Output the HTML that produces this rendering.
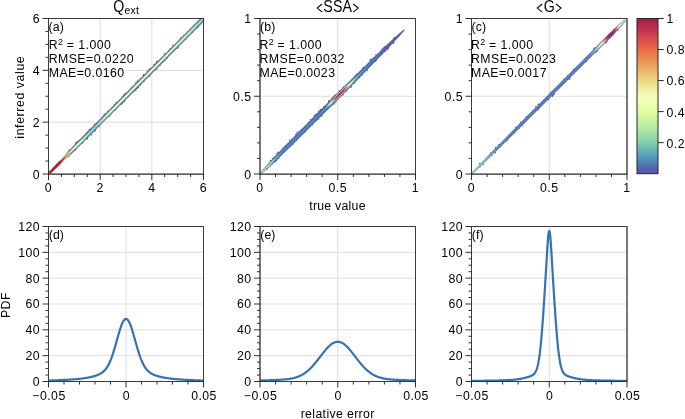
<!DOCTYPE html>
<html><head><meta charset="utf-8"><style>
html,body{margin:0;padding:0;background:#fff;}
svg{display:block;will-change:transform;}
</style></head><body>
<svg width="685" height="419" viewBox="0 0 685 419" font-family='"Liberation Sans", sans-serif'>
<rect width="685" height="419" fill="#fff"/>
<line x1="100.17" y1="18.50" x2="100.17" y2="174.00" stroke="#dddddd" stroke-width="1"/>
<line x1="48.50" y1="122.17" x2="203.50" y2="122.17" stroke="#dddddd" stroke-width="1"/>
<line x1="151.83" y1="18.50" x2="151.83" y2="174.00" stroke="#dddddd" stroke-width="1"/>
<line x1="48.50" y1="70.33" x2="203.50" y2="70.33" stroke="#dddddd" stroke-width="1"/>
<clipPath id="clip0"><rect x="48.5" y="18.5" width="155.0" height="155.5"/></clipPath>
<linearGradient id="g1" gradientUnits="userSpaceOnUse" x1="48.50" y1="174.00" x2="203.50" y2="18.50"><stop offset="0.0000" stop-color="#dc534d"/><stop offset="0.0125" stop-color="#d94e4e"/><stop offset="0.0250" stop-color="#d7494f"/><stop offset="0.0375" stop-color="#d44550"/><stop offset="0.0500" stop-color="#d14051"/><stop offset="0.0625" stop-color="#d64850"/><stop offset="0.0750" stop-color="#ea8652"/><stop offset="0.0875" stop-color="#eee395"/><stop offset="0.1000" stop-color="#cef2a1"/><stop offset="0.1125" stop-color="#7dceab"/><stop offset="0.1250" stop-color="#5384b7"/><stop offset="0.1375" stop-color="#5560a8"/><stop offset="0.1500" stop-color="#575da7"/><stop offset="0.1625" stop-color="#575da7"/><stop offset="0.1750" stop-color="#575da7"/><stop offset="0.1875" stop-color="#575da7"/><stop offset="0.2000" stop-color="#575da7"/><stop offset="0.2125" stop-color="#575da7"/><stop offset="0.2250" stop-color="#575da7"/><stop offset="0.2375" stop-color="#575da7"/><stop offset="0.2500" stop-color="#575da7"/><stop offset="0.2625" stop-color="#575da7"/><stop offset="0.2750" stop-color="#575da7"/><stop offset="0.2875" stop-color="#575da7"/><stop offset="0.3000" stop-color="#575da7"/><stop offset="0.3125" stop-color="#575da7"/><stop offset="0.3250" stop-color="#575da7"/><stop offset="0.3375" stop-color="#575da7"/><stop offset="0.3500" stop-color="#575da7"/><stop offset="0.3625" stop-color="#575da7"/><stop offset="0.3750" stop-color="#575da7"/><stop offset="0.3875" stop-color="#575da7"/><stop offset="0.4000" stop-color="#575da7"/><stop offset="0.4125" stop-color="#575da7"/><stop offset="0.4250" stop-color="#575da7"/><stop offset="0.4375" stop-color="#575da7"/><stop offset="0.4500" stop-color="#575da7"/><stop offset="0.4625" stop-color="#575da7"/><stop offset="0.4750" stop-color="#575da7"/><stop offset="0.4875" stop-color="#575da7"/><stop offset="0.5000" stop-color="#575da7"/><stop offset="0.5125" stop-color="#575da7"/><stop offset="0.5250" stop-color="#575da7"/><stop offset="0.5375" stop-color="#575da7"/><stop offset="0.5500" stop-color="#575da7"/><stop offset="0.5625" stop-color="#575da7"/><stop offset="0.5750" stop-color="#575da7"/><stop offset="0.5875" stop-color="#575da7"/><stop offset="0.6000" stop-color="#575da7"/><stop offset="0.6125" stop-color="#575da7"/><stop offset="0.6250" stop-color="#575da7"/><stop offset="0.6375" stop-color="#575da7"/><stop offset="0.6500" stop-color="#575da7"/><stop offset="0.6625" stop-color="#575da7"/><stop offset="0.6750" stop-color="#575da7"/><stop offset="0.6875" stop-color="#575da7"/><stop offset="0.7000" stop-color="#575da7"/><stop offset="0.7125" stop-color="#575da7"/><stop offset="0.7250" stop-color="#575da7"/><stop offset="0.7375" stop-color="#575da7"/><stop offset="0.7500" stop-color="#575da7"/><stop offset="0.7625" stop-color="#575da7"/><stop offset="0.7750" stop-color="#575da7"/><stop offset="0.7875" stop-color="#575da7"/><stop offset="0.8000" stop-color="#575da7"/><stop offset="0.8125" stop-color="#575da7"/><stop offset="0.8250" stop-color="#575da7"/><stop offset="0.8375" stop-color="#575da7"/><stop offset="0.8500" stop-color="#575da7"/><stop offset="0.8625" stop-color="#575da7"/><stop offset="0.8750" stop-color="#575da7"/><stop offset="0.8875" stop-color="#575da7"/><stop offset="0.9000" stop-color="#575da7"/><stop offset="0.9125" stop-color="#575da7"/><stop offset="0.9250" stop-color="#575da7"/><stop offset="0.9375" stop-color="#575da7"/><stop offset="0.9500" stop-color="#575da7"/><stop offset="0.9625" stop-color="#575da7"/><stop offset="0.9750" stop-color="#575da7"/><stop offset="0.9875" stop-color="#575da7"/><stop offset="1.0000" stop-color="#575da7"/></linearGradient>
<linearGradient id="g2" gradientUnits="userSpaceOnUse" x1="48.50" y1="174.00" x2="203.50" y2="18.50"><stop offset="0.0000" stop-color="#dc534d"/><stop offset="0.0125" stop-color="#ad264d"/><stop offset="0.0250" stop-color="#ad264d"/><stop offset="0.0375" stop-color="#ad264d"/><stop offset="0.0500" stop-color="#ad264d"/><stop offset="0.0625" stop-color="#ad264d"/><stop offset="0.0750" stop-color="#ad264d"/><stop offset="0.0875" stop-color="#d94e4e"/><stop offset="0.1000" stop-color="#ea8652"/><stop offset="0.1125" stop-color="#eee598"/><stop offset="0.1250" stop-color="#e5fca6"/><stop offset="0.1375" stop-color="#c7efa2"/><stop offset="0.1500" stop-color="#9ddea6"/><stop offset="0.1625" stop-color="#96dba7"/><stop offset="0.1750" stop-color="#8fd8a8"/><stop offset="0.1875" stop-color="#87d5a9"/><stop offset="0.2000" stop-color="#80d2aa"/><stop offset="0.2125" stop-color="#79c8ad"/><stop offset="0.2250" stop-color="#72beb0"/><stop offset="0.2375" stop-color="#6ab4b3"/><stop offset="0.2500" stop-color="#68b2b4"/><stop offset="0.2625" stop-color="#68b0b4"/><stop offset="0.2750" stop-color="#67afb4"/><stop offset="0.2875" stop-color="#66aeb5"/><stop offset="0.3000" stop-color="#65adb5"/><stop offset="0.3125" stop-color="#66afb5"/><stop offset="0.3250" stop-color="#6fbab1"/><stop offset="0.3375" stop-color="#77c6ae"/><stop offset="0.3500" stop-color="#80d2aa"/><stop offset="0.3625" stop-color="#80d2aa"/><stop offset="0.3750" stop-color="#80d2aa"/><stop offset="0.3875" stop-color="#80d2aa"/><stop offset="0.4000" stop-color="#80d2aa"/><stop offset="0.4125" stop-color="#80d2aa"/><stop offset="0.4250" stop-color="#80d2aa"/><stop offset="0.4375" stop-color="#80d2aa"/><stop offset="0.4500" stop-color="#80d2aa"/><stop offset="0.4625" stop-color="#80d2aa"/><stop offset="0.4750" stop-color="#80d2aa"/><stop offset="0.4875" stop-color="#80d2aa"/><stop offset="0.5000" stop-color="#80d2aa"/><stop offset="0.5125" stop-color="#80d2aa"/><stop offset="0.5250" stop-color="#80d2aa"/><stop offset="0.5375" stop-color="#80d2aa"/><stop offset="0.5500" stop-color="#80d2aa"/><stop offset="0.5625" stop-color="#80d2aa"/><stop offset="0.5750" stop-color="#80d2aa"/><stop offset="0.5875" stop-color="#80d2aa"/><stop offset="0.6000" stop-color="#80d2aa"/><stop offset="0.6125" stop-color="#80d2aa"/><stop offset="0.6250" stop-color="#80d2aa"/><stop offset="0.6375" stop-color="#80d2aa"/><stop offset="0.6500" stop-color="#80d2aa"/><stop offset="0.6625" stop-color="#80d2aa"/><stop offset="0.6750" stop-color="#80d2aa"/><stop offset="0.6875" stop-color="#80d2aa"/><stop offset="0.7000" stop-color="#80d2aa"/><stop offset="0.7125" stop-color="#80d2aa"/><stop offset="0.7250" stop-color="#80d2aa"/><stop offset="0.7375" stop-color="#80d2aa"/><stop offset="0.7500" stop-color="#80d2aa"/><stop offset="0.7625" stop-color="#80d2aa"/><stop offset="0.7750" stop-color="#80d2aa"/><stop offset="0.7875" stop-color="#80d2aa"/><stop offset="0.8000" stop-color="#80d2aa"/><stop offset="0.8125" stop-color="#80d2aa"/><stop offset="0.8250" stop-color="#80d2aa"/><stop offset="0.8375" stop-color="#80d2aa"/><stop offset="0.8500" stop-color="#80d2aa"/><stop offset="0.8625" stop-color="#80d2aa"/><stop offset="0.8750" stop-color="#80d2aa"/><stop offset="0.8875" stop-color="#80d2aa"/><stop offset="0.9000" stop-color="#80d2aa"/><stop offset="0.9125" stop-color="#7dcdab"/><stop offset="0.9250" stop-color="#79c9ad"/><stop offset="0.9375" stop-color="#76c4ae"/><stop offset="0.9500" stop-color="#72bfb0"/><stop offset="0.9625" stop-color="#6fbab1"/><stop offset="0.9750" stop-color="#6bb6b3"/><stop offset="0.9875" stop-color="#68b1b4"/><stop offset="1.0000" stop-color="#64acb5"/></linearGradient>
<linearGradient id="g3" gradientUnits="userSpaceOnUse" x1="48.50" y1="174.00" x2="203.50" y2="18.50"><stop offset="0.0000" stop-color="#e96a48"/><stop offset="0.0125" stop-color="#9f1d4b"/><stop offset="0.0250" stop-color="#9f1d4b"/><stop offset="0.0375" stop-color="#9f1d4b"/><stop offset="0.0500" stop-color="#9f1d4b"/><stop offset="0.0625" stop-color="#9f1d4b"/><stop offset="0.0750" stop-color="#9f1d4b"/><stop offset="0.0875" stop-color="#b1294e"/><stop offset="0.1000" stop-color="#cf3c52"/><stop offset="0.1125" stop-color="#e9734b"/><stop offset="0.1250" stop-color="#eba15c"/><stop offset="0.1375" stop-color="#eccf7d"/><stop offset="0.1500" stop-color="#eee496"/><stop offset="0.1625" stop-color="#f1f3ad"/><stop offset="0.1750" stop-color="#f2ffbf"/><stop offset="0.1875" stop-color="#ecfdb3"/><stop offset="0.2000" stop-color="#e6fca7"/><stop offset="0.2125" stop-color="#dbf8a0"/><stop offset="0.2250" stop-color="#ccf2a2"/><stop offset="0.2375" stop-color="#bceba3"/><stop offset="0.2500" stop-color="#a9e3a5"/><stop offset="0.2625" stop-color="#97dca7"/><stop offset="0.2750" stop-color="#94daa7"/><stop offset="0.2875" stop-color="#91d9a8"/><stop offset="0.3000" stop-color="#8ed8a8"/><stop offset="0.3125" stop-color="#90d9a8"/><stop offset="0.3250" stop-color="#a3e1a5"/><stop offset="0.3375" stop-color="#b6e9a3"/><stop offset="0.3500" stop-color="#c3eea2"/><stop offset="0.3625" stop-color="#d0f3a1"/><stop offset="0.3750" stop-color="#ddf9a0"/><stop offset="0.3875" stop-color="#e3fba2"/><stop offset="0.4000" stop-color="#e4fca4"/><stop offset="0.4125" stop-color="#e6fca7"/><stop offset="0.4250" stop-color="#e7fca9"/><stop offset="0.4375" stop-color="#e8fcac"/><stop offset="0.4500" stop-color="#eafdae"/><stop offset="0.4625" stop-color="#e9fdae"/><stop offset="0.4750" stop-color="#e9fdae"/><stop offset="0.4875" stop-color="#e9fdae"/><stop offset="0.5000" stop-color="#e9fdae"/><stop offset="0.5125" stop-color="#e9fdad"/><stop offset="0.5250" stop-color="#e9fdad"/><stop offset="0.5375" stop-color="#e9fdad"/><stop offset="0.5500" stop-color="#e9fdad"/><stop offset="0.5625" stop-color="#e9fdad"/><stop offset="0.5750" stop-color="#e9fdac"/><stop offset="0.5875" stop-color="#e9fdac"/><stop offset="0.6000" stop-color="#e8fdac"/><stop offset="0.6125" stop-color="#e8fcac"/><stop offset="0.6250" stop-color="#e8fcac"/><stop offset="0.6375" stop-color="#e8fcac"/><stop offset="0.6500" stop-color="#e8fcab"/><stop offset="0.6625" stop-color="#e8fcab"/><stop offset="0.6750" stop-color="#e8fcab"/><stop offset="0.6875" stop-color="#e8fcab"/><stop offset="0.7000" stop-color="#e8fcab"/><stop offset="0.7125" stop-color="#e7fca9"/><stop offset="0.7250" stop-color="#e6fca7"/><stop offset="0.7375" stop-color="#e5fca5"/><stop offset="0.7500" stop-color="#e4fba3"/><stop offset="0.7625" stop-color="#e3fba1"/><stop offset="0.7750" stop-color="#e1fba0"/><stop offset="0.7875" stop-color="#dffaa0"/><stop offset="0.8000" stop-color="#ddf9a0"/><stop offset="0.8125" stop-color="#dbf8a0"/><stop offset="0.8250" stop-color="#d8f7a1"/><stop offset="0.8375" stop-color="#d4f5a1"/><stop offset="0.8500" stop-color="#d0f3a1"/><stop offset="0.8625" stop-color="#ccf2a1"/><stop offset="0.8750" stop-color="#c8f0a2"/><stop offset="0.8875" stop-color="#c4eea2"/><stop offset="0.9000" stop-color="#c0eca2"/><stop offset="0.9125" stop-color="#bceba3"/><stop offset="0.9250" stop-color="#b7e9a3"/><stop offset="0.9375" stop-color="#b1e6a4"/><stop offset="0.9500" stop-color="#a9e3a5"/><stop offset="0.9625" stop-color="#a2e0a6"/><stop offset="0.9750" stop-color="#9adda6"/><stop offset="0.9875" stop-color="#93daa7"/><stop offset="1.0000" stop-color="#8cd7a8"/></linearGradient>
<g clip-path="url(#clip0)">
<polygon points="49.14,174.64 51.17,173.17 52.95,171.47 54.73,169.76 56.51,168.05 58.30,166.35 60.09,164.65 61.88,162.95 63.72,161.31 65.57,159.67 67.40,158.01 69.23,156.35 71.03,154.66 72.80,152.94 74.56,151.21 76.33,149.49 78.09,147.77 79.86,146.04 81.62,144.32 83.36,142.57 85.10,140.82 86.85,139.08 88.59,137.33 90.33,135.58 92.07,133.84 93.82,132.09 95.56,130.35 97.30,128.60 99.04,126.85 100.79,125.11 102.53,123.36 104.27,121.62 106.02,119.87 107.76,118.12 109.50,116.38 111.24,114.63 112.99,112.88 114.73,111.14 116.47,109.39 118.21,107.65 119.96,105.90 121.70,104.15 123.44,102.41 125.18,100.66 126.93,98.91 128.67,97.17 130.41,95.42 132.15,93.68 133.90,91.93 135.64,90.18 137.38,88.44 139.12,86.69 140.87,84.94 142.61,83.20 144.35,81.45 146.09,79.71 147.84,77.96 149.58,76.21 151.32,74.47 153.06,72.72 154.81,70.98 156.55,69.23 158.29,67.48 160.03,65.74 161.78,63.99 163.52,62.24 165.26,60.50 167.00,58.75 168.75,57.01 170.49,55.26 172.23,53.51 173.98,51.77 175.72,50.02 177.46,48.27 179.20,46.53 180.95,44.78 182.69,43.04 184.43,41.29 186.17,39.54 187.92,37.80 189.66,36.05 191.40,34.31 193.14,32.56 194.89,30.81 196.63,29.07 198.37,27.32 200.11,25.57 201.86,23.83 203.60,22.08 205.34,20.34 201.66,16.66 199.92,18.41 198.18,20.16 196.44,21.91 194.70,23.66 192.96,25.41 191.22,27.15 189.47,28.90 187.73,30.65 185.99,32.40 184.25,34.15 182.51,35.89 180.77,37.64 179.03,39.39 177.29,41.14 175.55,42.89 173.81,44.64 172.07,46.38 170.33,48.13 168.59,49.88 166.85,51.63 165.11,53.38 163.37,55.12 161.63,56.87 159.88,58.62 158.14,60.37 156.40,62.12 154.66,63.87 152.92,65.61 151.18,67.36 149.44,69.11 147.70,70.86 145.96,72.61 144.22,74.35 142.48,76.10 140.74,77.85 139.00,79.60 137.26,81.35 135.52,83.10 133.78,84.84 132.04,86.59 130.29,88.34 128.55,90.09 126.81,91.84 125.07,93.58 123.33,95.33 121.59,97.08 119.85,98.83 118.11,100.58 116.37,102.33 114.63,104.07 112.89,105.82 111.15,107.57 109.41,109.32 107.67,111.07 105.93,112.81 104.19,114.56 102.45,116.31 100.71,118.06 98.96,119.81 97.22,121.56 95.48,123.30 93.74,125.05 92.00,126.80 90.26,128.55 88.52,130.30 86.78,132.04 85.04,133.79 83.30,135.54 81.56,137.29 79.82,139.04 78.08,140.79 76.36,142.55 74.64,144.32 72.92,146.09 71.20,147.86 69.48,149.64 67.77,151.41 66.09,153.21 64.43,155.05 62.78,156.88 61.14,158.74 59.51,160.59 57.81,162.38 56.12,164.18 54.42,165.97 52.72,167.76 51.02,169.54 49.32,171.33 47.86,173.36" fill="url(#g1)" fill-opacity="0.45"/>
<g fill="#5859a7"><circle cx="76.69" cy="142.06" r="0.67"/><circle cx="78.07" cy="141.18" r="0.64"/><circle cx="89.75" cy="135.33" r="0.62"/><circle cx="137.59" cy="87.84" r="0.68"/><circle cx="166.98" cy="58.19" r="0.69"/><circle cx="161.43" cy="63.76" r="0.50"/><circle cx="198.43" cy="26.72" r="0.77"/><circle cx="143.46" cy="75.45" r="0.73"/><circle cx="69.72" cy="149.86" r="0.53"/><circle cx="157.12" cy="68.98" r="0.56"/><circle cx="149.25" cy="69.24" r="0.72"/><circle cx="94.38" cy="124.23" r="0.70"/><circle cx="156.49" cy="62.41" r="0.73"/><circle cx="185.61" cy="39.26" r="0.75"/><circle cx="121.01" cy="104.06" r="0.71"/><circle cx="104.11" cy="114.39" r="0.58"/><circle cx="140.24" cy="78.47" r="0.56"/><circle cx="89.32" cy="129.43" r="0.73"/><circle cx="144.13" cy="80.97" r="0.76"/><circle cx="91.59" cy="134.70" r="0.69"/><circle cx="149.87" cy="76.05" r="0.74"/><circle cx="75.78" cy="149.57" r="0.53"/><circle cx="94.79" cy="131.34" r="0.54"/><circle cx="105.02" cy="114.02" r="0.75"/><circle cx="197.26" cy="27.75" r="0.66"/><circle cx="162.56" cy="62.29" r="0.70"/><circle cx="114.42" cy="104.33" r="0.70"/><circle cx="138.52" cy="87.09" r="0.56"/><circle cx="134.75" cy="90.76" r="0.66"/><circle cx="168.68" cy="50.22" r="0.51"/><circle cx="135.62" cy="82.94" r="0.62"/><circle cx="115.88" cy="102.52" r="0.62"/><circle cx="115.24" cy="110.32" r="0.53"/><circle cx="138.02" cy="80.27" r="0.67"/><circle cx="164.34" cy="53.94" r="0.72"/><circle cx="177.41" cy="48.50" r="0.58"/><circle cx="132.84" cy="92.37" r="0.67"/><circle cx="107.74" cy="111.10" r="0.67"/><circle cx="82.57" cy="142.93" r="0.71"/><circle cx="77.46" cy="142.17" r="0.65"/><circle cx="122.57" cy="102.76" r="0.56"/><circle cx="192.83" cy="32.23" r="0.54"/><circle cx="102.96" cy="116.47" r="0.66"/><circle cx="190.56" cy="28.62" r="0.62"/><circle cx="154.14" cy="63.97" r="0.54"/><circle cx="140.65" cy="85.41" r="0.52"/><circle cx="143.66" cy="74.82" r="0.78"/><circle cx="137.54" cy="82.04" r="0.52"/><circle cx="123.98" cy="101.21" r="0.70"/><circle cx="122.61" cy="102.62" r="0.71"/><circle cx="110.02" cy="115.94" r="0.65"/><circle cx="169.90" cy="48.82" r="0.55"/><circle cx="124.54" cy="94.31" r="0.79"/><circle cx="68.60" cy="156.53" r="0.73"/><circle cx="156.77" cy="61.80" r="0.76"/><circle cx="159.92" cy="65.63" r="0.67"/><circle cx="154.14" cy="64.44" r="0.68"/><circle cx="170.19" cy="48.58" r="0.51"/><circle cx="136.91" cy="81.78" r="0.69"/><circle cx="120.76" cy="104.60" r="0.72"/><circle cx="75.60" cy="143.08" r="0.79"/><circle cx="86.55" cy="138.55" r="0.77"/><circle cx="122.14" cy="103.26" r="0.70"/><circle cx="87.00" cy="132.12" r="0.70"/><circle cx="165.08" cy="60.84" r="0.63"/><circle cx="123.49" cy="95.37" r="0.58"/><circle cx="183.58" cy="35.04" r="0.55"/><circle cx="147.27" cy="71.00" r="0.76"/><circle cx="86.96" cy="139.23" r="0.56"/><circle cx="124.19" cy="101.68" r="0.72"/><circle cx="125.47" cy="93.23" r="0.61"/><circle cx="155.75" cy="69.86" r="0.71"/><circle cx="136.92" cy="88.53" r="0.78"/><circle cx="90.71" cy="128.88" r="0.50"/><circle cx="179.19" cy="39.89" r="0.58"/><circle cx="95.25" cy="130.51" r="0.65"/><circle cx="178.43" cy="47.55" r="0.64"/><circle cx="172.89" cy="45.41" r="0.77"/><circle cx="131.89" cy="86.94" r="0.56"/><circle cx="135.92" cy="90.23" r="0.77"/><circle cx="68.59" cy="151.09" r="0.54"/><circle cx="87.53" cy="138.53" r="0.79"/><circle cx="138.12" cy="87.43" r="0.75"/><circle cx="165.27" cy="54.11" r="0.56"/><circle cx="180.97" cy="37.51" r="0.73"/><circle cx="150.12" cy="68.38" r="0.66"/><circle cx="99.66" cy="126.65" r="0.50"/><circle cx="157.25" cy="61.01" r="0.57"/><circle cx="75.00" cy="150.27" r="0.64"/><circle cx="122.11" cy="96.22" r="0.54"/></g>
<polygon points="49.14,174.64 51.17,173.17 52.95,171.47 54.73,169.76 56.51,168.05 58.30,166.35 60.09,164.65 61.88,162.95 63.66,161.25 65.45,159.55 67.22,157.83 68.98,156.10 70.75,154.38 72.51,152.65 74.28,150.93 76.04,149.21 77.81,147.48 79.57,145.76 81.34,144.03 83.08,142.29 84.82,140.54 86.56,138.79 88.31,137.05 90.05,135.30 91.79,133.56 93.53,131.81 95.28,130.06 97.02,128.32 98.76,126.57 100.50,124.83 102.25,123.08 103.99,121.33 105.73,119.59 107.47,117.84 109.22,116.09 110.96,114.35 112.70,112.60 114.44,110.86 116.19,109.11 117.93,107.36 119.67,105.62 121.41,103.87 123.16,102.12 124.90,100.38 126.64,98.63 128.39,96.89 130.13,95.14 131.87,93.39 133.61,91.65 135.36,89.90 137.10,88.15 138.84,86.41 140.58,84.66 142.33,82.92 144.07,81.17 145.81,79.42 147.55,77.68 149.30,75.93 151.04,74.19 152.78,72.44 154.52,70.69 156.27,68.95 158.01,67.20 159.75,65.45 161.49,63.71 163.24,61.96 164.98,60.22 166.72,58.47 168.46,56.72 170.21,54.98 171.95,53.23 173.69,51.48 175.43,49.74 177.18,47.99 178.92,46.25 180.66,44.50 182.40,42.75 184.15,41.01 185.89,39.26 187.63,37.52 189.38,35.77 191.12,34.02 192.86,32.28 194.60,30.53 196.35,28.78 198.09,27.04 199.83,25.29 201.57,23.55 203.32,21.80 205.06,20.05 201.94,16.95 200.20,18.70 198.46,20.44 196.72,22.19 194.98,23.94 193.24,25.69 191.50,27.44 189.76,29.18 188.02,30.93 186.28,32.68 184.54,34.43 182.80,36.18 181.05,37.93 179.31,39.67 177.57,41.42 175.83,43.17 174.09,44.92 172.35,46.67 170.61,48.41 168.87,50.16 167.13,51.91 165.39,53.66 163.65,55.41 161.91,57.16 160.17,58.90 158.43,60.65 156.69,62.40 154.95,64.15 153.21,65.90 151.47,67.64 149.72,69.39 147.98,71.14 146.24,72.89 144.50,74.64 142.76,76.39 141.02,78.13 139.28,79.88 137.54,81.63 135.80,83.38 134.06,85.13 132.32,86.87 130.58,88.62 128.84,90.37 127.10,92.12 125.36,93.87 123.62,95.62 121.88,97.36 120.13,99.11 118.39,100.86 116.65,102.61 114.91,104.36 113.17,106.10 111.43,107.85 109.69,109.60 107.95,111.35 106.21,113.10 104.47,114.85 102.73,116.59 100.99,118.34 99.25,120.09 97.51,121.84 95.77,123.59 94.03,125.33 92.29,127.08 90.54,128.83 88.80,130.58 87.06,132.33 85.32,134.08 83.58,135.82 81.84,137.57 80.10,139.32 78.36,141.07 76.64,142.83 74.92,144.61 73.20,146.38 71.49,148.15 69.77,149.92 68.05,151.69 66.33,153.46 64.61,155.23 62.90,157.00 61.20,158.79 59.51,160.59 57.81,162.38 56.12,164.18 54.42,165.97 52.72,167.76 51.02,169.54 49.32,171.33 47.86,173.36" fill="url(#g1)"/>
<polygon points="48.88,174.38 50.80,172.81 52.56,171.08 54.33,169.36 56.09,167.64 57.86,165.92 59.63,164.20 61.40,162.48 63.17,160.76 64.94,159.04 66.70,157.31 68.45,155.57 70.21,153.84 71.96,152.11 73.72,150.37 75.48,148.64 77.23,146.91 78.99,145.18 80.74,143.44 82.48,141.69 84.23,139.95 85.97,138.20 87.71,136.45 89.45,134.71 91.19,132.96 92.94,131.21 94.68,129.47 96.42,127.72 98.16,125.97 99.90,124.23 101.65,122.48 103.39,120.73 105.13,118.99 106.87,117.24 108.62,115.49 110.36,113.75 112.10,112.00 113.84,110.25 115.58,108.51 117.33,106.76 119.07,105.02 120.81,103.27 122.55,101.52 124.30,99.78 126.04,98.03 127.78,96.28 129.52,94.54 131.26,92.79 133.01,91.04 134.75,89.30 136.49,87.55 138.23,85.80 139.97,84.06 141.72,82.31 143.46,80.56 145.20,78.82 146.94,77.07 148.69,75.32 150.43,73.58 152.17,71.83 153.91,70.08 155.65,68.34 157.40,66.59 159.14,64.84 160.88,63.10 162.62,61.35 164.36,59.60 166.11,57.86 167.85,56.11 169.59,54.36 171.33,52.62 173.08,50.87 174.82,49.12 176.56,47.38 178.30,45.63 180.04,43.88 181.79,42.14 183.53,40.39 185.27,38.64 187.01,36.90 188.76,35.15 190.50,33.40 192.24,31.66 193.98,29.91 195.72,28.16 197.47,26.42 199.21,24.67 200.95,22.93 202.69,21.18 204.43,19.43 202.57,17.57 200.82,19.32 199.08,21.06 197.34,22.81 195.60,24.56 193.86,26.31 192.12,28.05 190.38,29.80 188.64,31.55 186.90,33.30 185.16,35.05 183.41,36.79 181.67,38.54 179.93,40.29 178.19,42.04 176.45,43.78 174.71,45.53 172.97,47.28 171.23,49.03 169.49,50.78 167.75,52.52 166.00,54.27 164.26,56.02 162.52,57.77 160.78,59.51 159.04,61.26 157.30,63.01 155.56,64.76 153.82,66.51 152.08,68.25 150.34,70.00 148.59,71.75 146.85,73.50 145.11,75.25 143.37,76.99 141.63,78.74 139.89,80.49 138.15,82.24 136.41,83.98 134.67,85.73 132.93,87.48 131.19,89.23 129.44,90.98 127.70,92.72 125.96,94.47 124.22,96.22 122.48,97.97 120.74,99.71 119.00,101.46 117.26,103.21 115.52,104.96 113.78,106.71 112.03,108.45 110.29,110.20 108.55,111.95 106.81,113.70 105.07,115.44 103.33,117.19 101.59,118.94 99.85,120.69 98.11,122.44 96.37,124.18 94.62,125.93 92.88,127.68 91.14,129.43 89.40,131.17 87.66,132.92 85.92,134.67 84.18,136.42 82.44,138.17 80.70,139.91 78.96,141.66 77.23,143.42 75.50,145.18 73.77,146.94 72.04,148.70 70.32,150.47 68.59,152.23 66.86,153.99 65.14,155.75 63.41,157.51 61.69,159.29 59.98,161.06 58.27,162.84 56.55,164.61 54.84,166.39 53.12,168.16 51.40,169.93 49.69,171.70 48.12,173.62" fill="url(#g2)"/>
<polygon points="48.75,174.25 50.61,172.62 52.37,170.89 54.13,169.16 55.88,167.43 57.64,165.70 59.40,163.97 61.16,162.24 62.93,160.51 64.69,158.78 66.44,157.05 68.19,155.31 69.94,153.57 71.69,151.83 73.44,150.10 75.19,148.36 76.94,146.62 78.69,144.88 80.44,143.14 82.19,141.40 83.93,139.65 85.67,137.90 87.41,136.16 89.15,134.41 90.90,132.66 92.64,130.92 94.38,129.17 96.12,127.42 97.86,125.68 99.60,123.93 101.35,122.18 103.09,120.44 104.83,118.69 106.57,116.94 108.31,115.19 110.06,113.45 111.80,111.70 113.54,109.95 115.28,108.21 117.02,106.46 118.77,104.71 120.51,102.97 122.25,101.22 123.99,99.47 125.73,97.73 127.48,95.98 129.22,94.23 130.96,92.49 132.70,90.74 134.44,88.99 136.19,87.25 137.93,85.50 139.67,83.75 141.41,82.01 143.15,80.26 144.90,78.51 146.64,76.77 148.38,75.02 150.12,73.27 151.86,71.53 153.61,69.78 155.35,68.03 157.09,66.28 158.83,64.54 160.57,62.79 162.32,61.04 164.06,59.30 165.80,57.55 167.54,55.80 169.28,54.06 171.03,52.31 172.77,50.56 174.51,48.82 176.25,47.07 177.99,45.32 179.74,43.58 181.48,41.83 183.22,40.08 184.96,38.34 186.70,36.59 188.45,34.84 190.19,33.10 191.93,31.35 193.67,29.60 195.41,27.86 197.16,26.11 198.90,24.36 200.64,22.61 202.38,20.87 204.12,19.12 202.88,17.88 201.14,19.63 199.39,21.37 197.65,23.12 195.91,24.87 194.17,26.62 192.43,28.36 190.69,30.11 188.95,31.86 187.21,33.61 185.46,35.35 183.72,37.10 181.98,38.85 180.24,40.60 178.50,42.34 176.76,44.09 175.02,45.84 173.28,47.59 171.54,49.34 169.79,51.08 168.05,52.83 166.31,54.58 164.57,56.33 162.83,58.07 161.09,59.82 159.35,61.57 157.61,63.32 155.87,65.06 154.12,66.81 152.38,68.56 150.64,70.31 148.90,72.05 147.16,73.80 145.42,75.55 143.68,77.30 141.94,79.04 140.19,80.79 138.45,82.54 136.71,84.29 134.97,86.03 133.23,87.78 131.49,89.53 129.75,91.28 128.01,93.03 126.27,94.77 124.52,96.52 122.78,98.27 121.04,100.02 119.30,101.76 117.56,103.51 115.82,105.26 114.08,107.01 112.34,108.75 110.59,110.50 108.85,112.25 107.11,114.00 105.37,115.74 103.63,117.49 101.89,119.24 100.15,120.99 98.41,122.73 96.67,124.48 94.92,126.23 93.18,127.98 91.44,129.72 89.70,131.47 87.96,133.22 86.22,134.97 84.48,136.71 82.74,138.46 80.99,140.21 79.25,141.96 77.52,143.71 75.79,145.47 74.06,147.23 72.32,148.98 70.59,150.74 68.86,152.50 67.13,154.25 65.40,156.01 63.66,157.77 61.94,159.53 60.22,161.30 58.49,163.06 56.77,164.83 55.05,166.59 53.32,168.36 51.60,170.12 49.87,171.88 48.25,173.75" fill="url(#g3)"/>
</g>
<line x1="48.05" y1="18.50" x2="203.95" y2="18.50" stroke="#262626" stroke-width="0.9"/>
<line x1="48.05" y1="174.00" x2="203.95" y2="174.00" stroke="#262626" stroke-width="1.25"/>
<line x1="48.50" y1="18.50" x2="48.50" y2="174.00" stroke="#262626" stroke-width="0.9"/>
<line x1="203.50" y1="18.50" x2="203.50" y2="174.00" stroke="#262626" stroke-width="0.9"/>
<line x1="48.50" y1="174.00" x2="48.50" y2="180.00" stroke="#262626" stroke-width="0.95"/>
<line x1="100.17" y1="174.00" x2="100.17" y2="180.00" stroke="#262626" stroke-width="0.95"/>
<line x1="151.83" y1="174.00" x2="151.83" y2="180.00" stroke="#262626" stroke-width="0.95"/>
<line x1="203.50" y1="174.00" x2="203.50" y2="180.00" stroke="#262626" stroke-width="0.95"/>
<line x1="61.42" y1="174.00" x2="61.42" y2="177.00" stroke="#262626" stroke-width="0.95"/>
<line x1="74.33" y1="174.00" x2="74.33" y2="177.00" stroke="#262626" stroke-width="0.95"/>
<line x1="87.25" y1="174.00" x2="87.25" y2="177.00" stroke="#262626" stroke-width="0.95"/>
<line x1="113.08" y1="174.00" x2="113.08" y2="177.00" stroke="#262626" stroke-width="0.95"/>
<line x1="126.00" y1="174.00" x2="126.00" y2="177.00" stroke="#262626" stroke-width="0.95"/>
<line x1="138.92" y1="174.00" x2="138.92" y2="177.00" stroke="#262626" stroke-width="0.95"/>
<line x1="164.75" y1="174.00" x2="164.75" y2="177.00" stroke="#262626" stroke-width="0.95"/>
<line x1="177.67" y1="174.00" x2="177.67" y2="177.00" stroke="#262626" stroke-width="0.95"/>
<line x1="190.58" y1="174.00" x2="190.58" y2="177.00" stroke="#262626" stroke-width="0.95"/>
<line x1="42.50" y1="174.00" x2="48.50" y2="174.00" stroke="#262626" stroke-width="0.95"/>
<line x1="42.50" y1="122.17" x2="48.50" y2="122.17" stroke="#262626" stroke-width="0.95"/>
<line x1="42.50" y1="70.33" x2="48.50" y2="70.33" stroke="#262626" stroke-width="0.95"/>
<line x1="42.50" y1="18.50" x2="48.50" y2="18.50" stroke="#262626" stroke-width="0.95"/>
<line x1="45.50" y1="161.04" x2="48.50" y2="161.04" stroke="#262626" stroke-width="0.95"/>
<line x1="45.50" y1="148.08" x2="48.50" y2="148.08" stroke="#262626" stroke-width="0.95"/>
<line x1="45.50" y1="135.12" x2="48.50" y2="135.12" stroke="#262626" stroke-width="0.95"/>
<line x1="45.50" y1="109.21" x2="48.50" y2="109.21" stroke="#262626" stroke-width="0.95"/>
<line x1="45.50" y1="96.25" x2="48.50" y2="96.25" stroke="#262626" stroke-width="0.95"/>
<line x1="45.50" y1="83.29" x2="48.50" y2="83.29" stroke="#262626" stroke-width="0.95"/>
<line x1="45.50" y1="57.38" x2="48.50" y2="57.38" stroke="#262626" stroke-width="0.95"/>
<line x1="45.50" y1="44.42" x2="48.50" y2="44.42" stroke="#262626" stroke-width="0.95"/>
<line x1="45.50" y1="31.46" x2="48.50" y2="31.46" stroke="#262626" stroke-width="0.95"/>
<text x="48.50" y="192.20" font-size="12.3" letter-spacing="0.45" text-anchor="middle" fill="#000" >0</text>
<text x="40.05" y="179.20" font-size="12.3" letter-spacing="0.45" text-anchor="end" fill="#000" >0</text>
<text x="100.17" y="192.20" font-size="12.3" letter-spacing="0.45" text-anchor="middle" fill="#000" >2</text>
<text x="40.05" y="126.57" font-size="12.3" letter-spacing="0.45" text-anchor="end" fill="#000" >2</text>
<text x="151.83" y="192.20" font-size="12.3" letter-spacing="0.45" text-anchor="middle" fill="#000" >4</text>
<text x="40.05" y="74.73" font-size="12.3" letter-spacing="0.45" text-anchor="end" fill="#000" >4</text>
<text x="203.50" y="192.20" font-size="12.3" letter-spacing="0.45" text-anchor="middle" fill="#000" >6</text>
<text x="40.05" y="23.40" font-size="12.3" letter-spacing="0.45" text-anchor="end" fill="#000" >6</text>
<text x="48.60" y="31.40" font-size="12.3" letter-spacing="0.1" text-anchor="start" fill="#000" >(a)</text>
<text x="48.70" y="49.2" font-size="12.3" letter-spacing="0.45" fill="#000">R<tspan font-size="9" dy="-4.6">2</tspan><tspan dy="4.6" dx="-0.6"> = 1.000</tspan></text>
<text x="48.70" y="62.90" font-size="12.3" letter-spacing="0.45" text-anchor="start" fill="#000" >RMSE=0.0220</text>
<text x="48.70" y="76.60" font-size="12.3" letter-spacing="0.45" text-anchor="start" fill="#000" >MAE=0.0160</text>
<line x1="337.75" y1="18.50" x2="337.75" y2="174.00" stroke="#dddddd" stroke-width="1"/>
<line x1="260.00" y1="96.25" x2="415.50" y2="96.25" stroke="#dddddd" stroke-width="1"/>
<clipPath id="clip1"><rect x="260.0" y="18.5" width="155.5" height="155.5"/></clipPath>
<linearGradient id="g4" gradientUnits="userSpaceOnUse" x1="260.00" y1="174.00" x2="404.30" y2="29.70"><stop offset="0.0000" stop-color="#5560a8"/><stop offset="0.0125" stop-color="#5560a8"/><stop offset="0.0250" stop-color="#5560a8"/><stop offset="0.0375" stop-color="#5560a8"/><stop offset="0.0500" stop-color="#5560a8"/><stop offset="0.0625" stop-color="#5560a8"/><stop offset="0.0750" stop-color="#5560a8"/><stop offset="0.0875" stop-color="#5560a8"/><stop offset="0.1000" stop-color="#5560a8"/><stop offset="0.1125" stop-color="#5560a8"/><stop offset="0.1250" stop-color="#5560a8"/><stop offset="0.1375" stop-color="#5560a8"/><stop offset="0.1500" stop-color="#5560a8"/><stop offset="0.1625" stop-color="#555fa8"/><stop offset="0.1750" stop-color="#555fa8"/><stop offset="0.1875" stop-color="#555fa8"/><stop offset="0.2000" stop-color="#555fa8"/><stop offset="0.2125" stop-color="#555fa8"/><stop offset="0.2250" stop-color="#555fa8"/><stop offset="0.2375" stop-color="#555fa8"/><stop offset="0.2500" stop-color="#555fa8"/><stop offset="0.2625" stop-color="#555fa8"/><stop offset="0.2750" stop-color="#555fa8"/><stop offset="0.2875" stop-color="#555fa8"/><stop offset="0.3000" stop-color="#555fa8"/><stop offset="0.3125" stop-color="#555fa8"/><stop offset="0.3250" stop-color="#565fa8"/><stop offset="0.3375" stop-color="#565fa8"/><stop offset="0.3500" stop-color="#565fa8"/><stop offset="0.3625" stop-color="#565fa8"/><stop offset="0.3750" stop-color="#565fa8"/><stop offset="0.3875" stop-color="#565fa8"/><stop offset="0.4000" stop-color="#565fa8"/><stop offset="0.4125" stop-color="#565fa8"/><stop offset="0.4250" stop-color="#565fa8"/><stop offset="0.4375" stop-color="#565fa8"/><stop offset="0.4500" stop-color="#565fa8"/><stop offset="0.4625" stop-color="#565fa8"/><stop offset="0.4750" stop-color="#565fa8"/><stop offset="0.4875" stop-color="#565ea8"/><stop offset="0.5000" stop-color="#565ea8"/><stop offset="0.5125" stop-color="#565ea8"/><stop offset="0.5250" stop-color="#565ea8"/><stop offset="0.5375" stop-color="#565ea8"/><stop offset="0.5500" stop-color="#565ea8"/><stop offset="0.5625" stop-color="#565ea8"/><stop offset="0.5750" stop-color="#565ea8"/><stop offset="0.5875" stop-color="#565ea8"/><stop offset="0.6000" stop-color="#565ea8"/><stop offset="0.6125" stop-color="#565ea8"/><stop offset="0.6250" stop-color="#565ea8"/><stop offset="0.6375" stop-color="#565ea8"/><stop offset="0.6500" stop-color="#565ea8"/><stop offset="0.6625" stop-color="#565ea8"/><stop offset="0.6750" stop-color="#565ea8"/><stop offset="0.6875" stop-color="#565ea8"/><stop offset="0.7000" stop-color="#565ea8"/><stop offset="0.7125" stop-color="#565ea8"/><stop offset="0.7250" stop-color="#565ea8"/><stop offset="0.7375" stop-color="#565ea8"/><stop offset="0.7500" stop-color="#565ea8"/><stop offset="0.7625" stop-color="#565ea8"/><stop offset="0.7750" stop-color="#565ea8"/><stop offset="0.7875" stop-color="#565ea8"/><stop offset="0.8000" stop-color="#565ea8"/><stop offset="0.8125" stop-color="#565da7"/><stop offset="0.8250" stop-color="#565da7"/><stop offset="0.8375" stop-color="#565da7"/><stop offset="0.8500" stop-color="#565da7"/><stop offset="0.8625" stop-color="#565da7"/><stop offset="0.8750" stop-color="#565da7"/><stop offset="0.8875" stop-color="#565da7"/><stop offset="0.9000" stop-color="#565da7"/><stop offset="0.9125" stop-color="#565da7"/><stop offset="0.9250" stop-color="#565da7"/><stop offset="0.9375" stop-color="#565da7"/><stop offset="0.9500" stop-color="#565da7"/><stop offset="0.9625" stop-color="#565da7"/><stop offset="0.9750" stop-color="#575da7"/><stop offset="0.9875" stop-color="#575da7"/><stop offset="1.0000" stop-color="#575da7"/></linearGradient>
<linearGradient id="g5" gradientUnits="userSpaceOnUse" x1="260.00" y1="174.00" x2="404.30" y2="29.70"><stop offset="0.0000" stop-color="#b9eaa3"/><stop offset="0.0125" stop-color="#b0e6a4"/><stop offset="0.0250" stop-color="#a4e1a5"/><stop offset="0.0375" stop-color="#99dca7"/><stop offset="0.0500" stop-color="#8dd8a8"/><stop offset="0.0625" stop-color="#82d3aa"/><stop offset="0.0750" stop-color="#75c3af"/><stop offset="0.0875" stop-color="#68b1b4"/><stop offset="0.1000" stop-color="#5a9eba"/><stop offset="0.1125" stop-color="#528bba"/><stop offset="0.1250" stop-color="#5476b1"/><stop offset="0.1375" stop-color="#546fae"/><stop offset="0.1500" stop-color="#546fae"/><stop offset="0.1625" stop-color="#546fae"/><stop offset="0.1750" stop-color="#546fae"/><stop offset="0.1875" stop-color="#546fae"/><stop offset="0.2000" stop-color="#546fae"/><stop offset="0.2125" stop-color="#546fae"/><stop offset="0.2250" stop-color="#546fae"/><stop offset="0.2375" stop-color="#546fae"/><stop offset="0.2500" stop-color="#546fae"/><stop offset="0.2625" stop-color="#546fae"/><stop offset="0.2750" stop-color="#546fae"/><stop offset="0.2875" stop-color="#546fae"/><stop offset="0.3000" stop-color="#546fae"/><stop offset="0.3125" stop-color="#546fae"/><stop offset="0.3250" stop-color="#546fae"/><stop offset="0.3375" stop-color="#546fae"/><stop offset="0.3500" stop-color="#546fae"/><stop offset="0.3625" stop-color="#546fae"/><stop offset="0.3750" stop-color="#546fae"/><stop offset="0.3875" stop-color="#546fae"/><stop offset="0.4000" stop-color="#546fae"/><stop offset="0.4125" stop-color="#546fae"/><stop offset="0.4250" stop-color="#546fae"/><stop offset="0.4375" stop-color="#546fae"/><stop offset="0.4500" stop-color="#546fae"/><stop offset="0.4625" stop-color="#546fae"/><stop offset="0.4750" stop-color="#5389b9"/><stop offset="0.4875" stop-color="#5da3b8"/><stop offset="0.5000" stop-color="#77c5ae"/><stop offset="0.5125" stop-color="#a7e2a5"/><stop offset="0.5250" stop-color="#cff3a1"/><stop offset="0.5375" stop-color="#eafdaf"/><stop offset="0.5500" stop-color="#ebfdb2"/><stop offset="0.5625" stop-color="#ebfdb2"/><stop offset="0.5750" stop-color="#ebfdb2"/><stop offset="0.5875" stop-color="#e4fba4"/><stop offset="0.6000" stop-color="#c3eea2"/><stop offset="0.6125" stop-color="#9ddea6"/><stop offset="0.6250" stop-color="#77c5ae"/><stop offset="0.6375" stop-color="#5a9eba"/><stop offset="0.6500" stop-color="#5291bc"/><stop offset="0.6625" stop-color="#5382b6"/><stop offset="0.6750" stop-color="#5473b0"/><stop offset="0.6875" stop-color="#546dad"/><stop offset="0.7000" stop-color="#546bad"/><stop offset="0.7125" stop-color="#5469ac"/><stop offset="0.7250" stop-color="#5567ab"/><stop offset="0.7375" stop-color="#5567ab"/><stop offset="0.7500" stop-color="#5566ab"/><stop offset="0.7625" stop-color="#5566aa"/><stop offset="0.7750" stop-color="#5565aa"/><stop offset="0.7875" stop-color="#5565aa"/><stop offset="0.8000" stop-color="#5564aa"/><stop offset="0.8125" stop-color="#5564a9"/><stop offset="0.8250" stop-color="#5563a9"/><stop offset="0.8375" stop-color="#5563a9"/><stop offset="0.8500" stop-color="#5562a9"/><stop offset="0.8625" stop-color="#5562a9"/><stop offset="0.8750" stop-color="#5561a8"/><stop offset="0.8875" stop-color="#5561a8"/><stop offset="0.9000" stop-color="#5560a8"/><stop offset="0.9125" stop-color="#5560a8"/><stop offset="0.9250" stop-color="#5560a8"/><stop offset="0.9375" stop-color="#555fa8"/><stop offset="0.9500" stop-color="#555fa8"/><stop offset="0.9625" stop-color="#565fa8"/><stop offset="0.9750" stop-color="#565fa8"/><stop offset="0.9875" stop-color="#565ea8"/><stop offset="1.0000" stop-color="#565ea8"/></linearGradient>
<linearGradient id="g6" gradientUnits="userSpaceOnUse" x1="260.00" y1="174.00" x2="404.30" y2="29.70"><stop offset="0.0000" stop-color="#e6fca7"/><stop offset="0.0125" stop-color="#e3fba2"/><stop offset="0.0250" stop-color="#dffaa0"/><stop offset="0.0375" stop-color="#d9f7a1"/><stop offset="0.0500" stop-color="#d3f5a1"/><stop offset="0.0625" stop-color="#c5efa2"/><stop offset="0.0750" stop-color="#b0e6a4"/><stop offset="0.0875" stop-color="#95dba7"/><stop offset="0.1000" stop-color="#7dceab"/><stop offset="0.1125" stop-color="#71beb0"/><stop offset="0.1250" stop-color="#66aeb5"/><stop offset="0.1375" stop-color="#5a9eba"/><stop offset="0.1500" stop-color="#528dbb"/><stop offset="0.1625" stop-color="#528cba"/><stop offset="0.1750" stop-color="#528cba"/><stop offset="0.1875" stop-color="#528cba"/><stop offset="0.2000" stop-color="#528cba"/><stop offset="0.2125" stop-color="#528cba"/><stop offset="0.2250" stop-color="#528cba"/><stop offset="0.2375" stop-color="#528cba"/><stop offset="0.2500" stop-color="#528cba"/><stop offset="0.2625" stop-color="#528cba"/><stop offset="0.2750" stop-color="#528cba"/><stop offset="0.2875" stop-color="#528cba"/><stop offset="0.3000" stop-color="#528cba"/><stop offset="0.3125" stop-color="#528cba"/><stop offset="0.3250" stop-color="#528cba"/><stop offset="0.3375" stop-color="#528cba"/><stop offset="0.3500" stop-color="#528cba"/><stop offset="0.3625" stop-color="#528cba"/><stop offset="0.3750" stop-color="#528cba"/><stop offset="0.3875" stop-color="#528cba"/><stop offset="0.4000" stop-color="#528cba"/><stop offset="0.4125" stop-color="#528cba"/><stop offset="0.4250" stop-color="#528cba"/><stop offset="0.4375" stop-color="#528cba"/><stop offset="0.4500" stop-color="#589bbb"/><stop offset="0.4625" stop-color="#68b1b4"/><stop offset="0.4750" stop-color="#a2e0a5"/><stop offset="0.4875" stop-color="#e1fba0"/><stop offset="0.5000" stop-color="#eddf8f"/><stop offset="0.5125" stop-color="#e96a48"/><stop offset="0.5250" stop-color="#b92e4f"/><stop offset="0.5375" stop-color="#a11e4b"/><stop offset="0.5500" stop-color="#9f1d4b"/><stop offset="0.5625" stop-color="#9f1d4b"/><stop offset="0.5750" stop-color="#a6214c"/><stop offset="0.5875" stop-color="#ce3b52"/><stop offset="0.6000" stop-color="#ea8752"/><stop offset="0.6125" stop-color="#eddc8b"/><stop offset="0.6250" stop-color="#ebfdb2"/><stop offset="0.6375" stop-color="#c9f1a2"/><stop offset="0.6500" stop-color="#a6e2a5"/><stop offset="0.6625" stop-color="#83d3aa"/><stop offset="0.6750" stop-color="#73c0b0"/><stop offset="0.6875" stop-color="#63aab6"/><stop offset="0.7000" stop-color="#5ca1b9"/><stop offset="0.7125" stop-color="#589bbb"/><stop offset="0.7250" stop-color="#5395bc"/><stop offset="0.7375" stop-color="#528ebb"/><stop offset="0.7500" stop-color="#5387b8"/><stop offset="0.7625" stop-color="#5382b6"/><stop offset="0.7750" stop-color="#537fb5"/><stop offset="0.7875" stop-color="#537cb4"/><stop offset="0.8000" stop-color="#5479b2"/><stop offset="0.8125" stop-color="#5476b1"/><stop offset="0.8250" stop-color="#5473b0"/><stop offset="0.8375" stop-color="#546fae"/><stop offset="0.8500" stop-color="#546dad"/><stop offset="0.8625" stop-color="#546aac"/><stop offset="0.8750" stop-color="#5568ab"/><stop offset="0.8875" stop-color="#5565aa"/><stop offset="0.9000" stop-color="#5563a9"/><stop offset="0.9125" stop-color="#5561a8"/><stop offset="0.9250" stop-color="#5560a8"/><stop offset="0.9375" stop-color="#5560a8"/><stop offset="0.9500" stop-color="#555fa8"/><stop offset="0.9625" stop-color="#555fa8"/><stop offset="0.9750" stop-color="#565fa8"/><stop offset="0.9875" stop-color="#565fa8"/><stop offset="1.0000" stop-color="#565ea8"/></linearGradient>
<g clip-path="url(#clip1)">
<polygon points="260.81,174.81 262.52,173.28 264.23,171.75 265.94,170.21 267.65,168.68 269.36,167.15 271.05,165.60 272.75,164.05 274.44,162.50 276.14,160.95 277.84,159.41 279.51,157.84 281.16,156.25 282.81,154.65 284.46,153.06 286.11,151.46 287.75,149.87 289.40,148.28 291.05,146.68 292.68,145.07 294.31,143.45 295.94,141.84 297.56,140.22 299.19,138.60 300.82,136.99 302.44,135.37 304.07,133.76 305.69,132.14 307.32,130.52 308.95,128.91 310.57,127.29 312.20,125.67 313.82,124.06 315.45,122.44 317.08,120.82 318.70,119.21 320.33,117.59 321.96,115.97 323.58,114.36 325.21,112.74 326.83,111.12 328.47,109.51 330.10,107.90 331.73,106.29 333.37,104.68 335.00,103.08 336.63,101.47 338.27,99.86 339.90,98.25 341.53,96.64 343.13,94.99 344.73,93.35 346.34,91.71 347.94,90.07 349.54,88.43 351.14,86.78 352.74,85.14 354.34,83.50 355.94,81.86 357.54,80.22 359.15,78.58 360.75,76.94 362.35,75.30 363.96,73.66 365.56,72.02 367.16,70.38 368.77,68.74 370.37,67.10 371.97,65.46 373.57,63.82 375.18,62.18 376.78,60.54 378.37,58.89 379.96,57.24 381.56,55.59 383.15,53.94 384.74,52.29 386.33,50.64 387.92,48.99 389.51,47.33 391.11,45.68 392.68,44.01 394.23,42.32 395.77,40.62 397.32,38.93 398.87,37.23 400.41,35.53 401.88,33.76 403.36,31.99 404.83,30.23 403.77,29.17 402.01,30.64 400.24,32.12 398.47,33.59 396.77,35.13 395.07,36.68 393.38,38.23 391.68,39.77 389.99,41.32 388.32,42.89 386.67,44.49 385.01,46.08 383.36,47.67 381.71,49.26 380.06,50.85 378.41,52.44 376.76,54.04 375.11,55.63 373.46,57.22 371.82,58.82 370.18,60.43 368.54,62.03 366.90,63.63 365.26,65.23 363.62,66.84 361.98,68.44 360.34,70.04 358.70,71.65 357.06,73.25 355.42,74.85 353.78,76.46 352.14,78.06 350.50,79.66 348.86,81.26 347.22,82.86 345.57,84.46 343.93,86.06 342.29,87.66 340.65,89.27 339.01,90.87 337.36,92.47 335.75,94.10 334.14,95.73 332.53,97.37 330.92,99.00 329.32,100.63 327.71,102.27 326.10,103.90 324.49,105.53 322.88,107.17 321.26,108.79 319.64,110.42 318.03,112.04 316.41,113.67 314.79,115.30 313.18,116.92 311.56,118.55 309.94,120.18 308.33,121.80 306.71,123.43 305.09,125.05 303.48,126.68 301.86,128.31 300.24,129.93 298.63,131.56 297.01,133.18 295.40,134.81 293.78,136.44 292.16,138.06 290.55,139.69 288.93,141.32 287.32,142.95 285.72,144.60 284.13,146.25 282.54,147.89 280.94,149.54 279.35,151.19 277.75,152.84 276.16,154.49 274.59,156.16 273.05,157.86 271.50,159.56 269.95,161.25 268.40,162.95 266.85,164.64 265.32,166.35 263.79,168.06 262.25,169.77 260.72,171.48 259.19,173.19" fill="url(#g4)" fill-opacity="0.35"/>
<g fill="#5859a7"><circle cx="373.47" cy="57.54" r="0.59"/><circle cx="274.31" cy="162.13" r="0.62"/><circle cx="270.31" cy="160.48" r="0.70"/><circle cx="295.91" cy="134.74" r="0.79"/><circle cx="388.72" cy="47.64" r="0.65"/><circle cx="358.94" cy="77.81" r="0.67"/><circle cx="301.17" cy="129.98" r="0.70"/><circle cx="384.93" cy="51.34" r="0.77"/><circle cx="382.61" cy="48.45" r="0.50"/><circle cx="332.23" cy="98.12" r="0.56"/><circle cx="308.22" cy="122.52" r="0.54"/><circle cx="362.14" cy="75.09" r="0.74"/><circle cx="295.79" cy="134.35" r="0.65"/><circle cx="332.78" cy="97.85" r="0.50"/><circle cx="393.73" cy="43.01" r="0.61"/><circle cx="393.83" cy="38.28" r="0.78"/><circle cx="343.27" cy="94.84" r="0.70"/><circle cx="356.93" cy="73.77" r="0.57"/><circle cx="354.59" cy="83.16" r="0.69"/><circle cx="314.86" cy="115.17" r="0.56"/><circle cx="317.04" cy="113.56" r="0.71"/><circle cx="350.96" cy="87.24" r="0.80"/><circle cx="362.57" cy="68.70" r="0.71"/><circle cx="382.06" cy="54.56" r="0.67"/><circle cx="332.53" cy="104.90" r="0.62"/><circle cx="266.80" cy="169.00" r="0.69"/><circle cx="393.59" cy="42.39" r="0.80"/><circle cx="293.16" cy="144.70" r="0.55"/><circle cx="318.68" cy="111.24" r="0.75"/><circle cx="283.10" cy="147.63" r="0.58"/><circle cx="334.06" cy="103.10" r="0.76"/><circle cx="305.28" cy="132.13" r="0.52"/><circle cx="267.00" cy="168.72" r="0.78"/><circle cx="385.20" cy="46.28" r="0.64"/><circle cx="354.66" cy="76.17" r="0.74"/><circle cx="321.75" cy="115.96" r="0.72"/><circle cx="331.77" cy="98.21" r="0.50"/><circle cx="272.03" cy="163.89" r="0.56"/><circle cx="291.83" cy="139.15" r="0.68"/><circle cx="384.78" cy="46.86" r="0.61"/><circle cx="320.31" cy="109.70" r="0.78"/><circle cx="318.66" cy="119.19" r="0.60"/><circle cx="375.84" cy="54.75" r="0.65"/><circle cx="362.53" cy="68.20" r="0.59"/><circle cx="334.36" cy="102.71" r="0.66"/><circle cx="328.42" cy="101.42" r="0.51"/><circle cx="339.36" cy="90.74" r="0.72"/><circle cx="335.02" cy="95.11" r="0.65"/><circle cx="351.04" cy="86.60" r="0.70"/><circle cx="289.65" cy="140.25" r="0.72"/><circle cx="394.41" cy="37.69" r="0.58"/><circle cx="271.19" cy="160.98" r="0.57"/><circle cx="381.12" cy="49.92" r="0.57"/><circle cx="273.51" cy="158.18" r="0.70"/><circle cx="331.99" cy="98.35" r="0.58"/><circle cx="334.17" cy="104.14" r="0.56"/><circle cx="363.78" cy="67.45" r="0.60"/><circle cx="276.54" cy="153.83" r="0.61"/><circle cx="291.01" cy="145.76" r="0.56"/><circle cx="320.56" cy="109.71" r="0.79"/><circle cx="387.92" cy="48.79" r="0.78"/><circle cx="277.78" cy="152.67" r="0.62"/><circle cx="370.19" cy="60.58" r="0.65"/><circle cx="278.22" cy="152.35" r="0.75"/><circle cx="329.12" cy="100.55" r="0.61"/><circle cx="383.84" cy="47.67" r="0.61"/><circle cx="316.41" cy="120.82" r="0.57"/><circle cx="272.85" cy="158.39" r="0.63"/><circle cx="270.60" cy="166.24" r="0.54"/><circle cx="314.32" cy="115.49" r="0.53"/><circle cx="319.91" cy="111.18" r="0.52"/><circle cx="393.19" cy="43.36" r="0.58"/><circle cx="328.79" cy="100.96" r="0.78"/><circle cx="273.98" cy="157.17" r="0.56"/><circle cx="318.68" cy="111.44" r="0.56"/><circle cx="312.55" cy="124.86" r="0.62"/><circle cx="359.86" cy="77.26" r="0.63"/><circle cx="276.19" cy="160.39" r="0.78"/><circle cx="335.83" cy="102.05" r="0.67"/><circle cx="376.21" cy="60.42" r="0.59"/><circle cx="387.68" cy="49.54" r="0.54"/><circle cx="370.50" cy="60.50" r="0.64"/><circle cx="386.60" cy="50.02" r="0.57"/><circle cx="310.29" cy="119.74" r="0.62"/><circle cx="370.30" cy="59.95" r="0.79"/><circle cx="356.34" cy="74.73" r="0.70"/><circle cx="292.95" cy="143.80" r="0.52"/><circle cx="285.74" cy="145.40" r="0.75"/><circle cx="297.50" cy="133.75" r="0.52"/><circle cx="275.68" cy="161.62" r="0.75"/><circle cx="268.76" cy="166.99" r="0.58"/><circle cx="346.67" cy="90.59" r="0.79"/><circle cx="313.63" cy="116.72" r="0.58"/><circle cx="367.36" cy="70.53" r="0.68"/><circle cx="278.74" cy="158.47" r="0.65"/><circle cx="356.08" cy="81.02" r="0.59"/><circle cx="333.73" cy="96.38" r="0.55"/><circle cx="298.20" cy="131.78" r="0.68"/><circle cx="296.78" cy="133.07" r="0.77"/><circle cx="375.51" cy="61.25" r="0.67"/><circle cx="343.15" cy="86.90" r="0.66"/><circle cx="334.52" cy="95.37" r="0.52"/><circle cx="296.18" cy="140.96" r="0.58"/><circle cx="276.79" cy="159.77" r="0.67"/><circle cx="272.12" cy="163.96" r="0.55"/><circle cx="371.36" cy="58.98" r="0.77"/><circle cx="323.87" cy="106.74" r="0.66"/><circle cx="315.41" cy="114.71" r="0.72"/><circle cx="388.48" cy="47.67" r="0.77"/><circle cx="384.70" cy="47.25" r="0.56"/></g>
<polygon points="260.49,174.49 262.20,172.96 263.91,171.43 265.62,169.90 267.33,168.36 269.04,166.83 270.74,165.28 272.43,163.73 274.13,162.18 275.82,160.64 277.52,159.09 279.19,157.52 280.84,155.93 282.49,154.33 284.14,152.74 285.79,151.15 287.44,149.55 289.09,147.96 290.73,146.36 292.37,144.75 293.99,143.14 295.62,141.52 297.24,139.90 298.87,138.29 300.50,136.67 302.12,135.05 303.75,133.44 305.38,131.82 307.00,130.20 308.63,128.59 310.25,126.97 311.88,125.35 313.51,123.74 315.13,122.12 316.76,120.50 318.39,118.89 320.01,117.27 321.64,115.65 323.26,114.04 324.89,112.42 326.52,110.80 328.15,109.19 329.78,107.58 331.42,105.98 333.05,104.37 334.68,102.76 336.32,101.15 337.95,99.54 339.58,97.93 341.21,96.32 342.82,94.68 344.42,93.03 346.02,91.39 347.62,89.75 349.22,88.11 350.82,86.47 352.42,84.82 354.02,83.18 355.62,81.54 357.23,79.90 358.83,78.26 360.43,76.62 362.04,74.98 363.64,73.34 365.24,71.70 366.84,70.06 368.45,68.42 370.05,66.78 371.65,65.14 373.26,63.50 374.86,61.86 376.46,60.22 378.05,58.57 379.65,56.92 381.24,55.27 382.83,53.62 384.42,51.97 386.01,50.32 387.60,48.67 389.20,47.02 390.79,45.37 392.36,43.70 393.91,42.00 395.46,40.31 397.00,38.61 398.55,36.91 400.09,35.21 401.56,33.44 403.04,31.67 404.52,29.91 404.09,29.48 402.33,30.96 400.56,32.44 398.79,33.91 397.09,35.45 395.39,37.00 393.69,38.54 392.00,40.09 390.30,41.64 388.63,43.21 386.98,44.80 385.33,46.40 383.68,47.99 382.03,49.58 380.38,51.17 378.73,52.76 377.08,54.35 375.43,55.95 373.78,57.54 372.14,59.14 370.50,60.74 368.86,62.35 367.22,63.95 365.58,65.55 363.94,67.16 362.30,68.76 360.66,70.36 359.02,71.96 357.38,73.57 355.74,75.17 354.10,76.77 352.46,78.38 350.82,79.98 349.18,81.58 347.53,83.18 345.89,84.78 344.25,86.38 342.61,87.98 340.97,89.58 339.32,91.18 337.68,92.79 336.07,94.42 334.46,96.05 332.85,97.68 331.24,99.32 329.63,100.95 328.02,102.58 326.42,104.22 324.81,105.85 323.20,107.48 321.58,109.11 319.96,110.74 318.35,112.36 316.73,113.99 315.11,115.61 313.50,117.24 311.88,118.87 310.26,120.49 308.65,122.12 307.03,123.75 305.41,125.37 303.80,127.00 302.18,128.62 300.56,130.25 298.95,131.88 297.33,133.50 295.71,135.13 294.10,136.76 292.48,138.38 290.86,140.01 289.25,141.63 287.64,143.27 286.04,144.91 284.45,146.56 282.85,148.21 281.26,149.86 279.67,151.51 278.07,153.16 276.48,154.81 274.91,156.48 273.36,158.18 271.82,159.87 270.27,161.57 268.72,163.26 267.17,164.96 265.64,166.67 264.10,168.38 262.57,170.09 261.04,171.80 259.51,173.51" fill="url(#g4)"/>
<polygon points="260.30,174.30 261.97,172.73 263.65,171.16 265.32,169.59 266.99,168.02 268.67,166.45 270.33,164.88 272.00,163.30 273.66,161.72 275.33,160.15 277.00,158.57 278.65,156.98 280.29,155.37 281.92,153.77 283.56,152.16 285.20,150.56 286.84,148.95 288.48,147.35 290.11,145.74 291.74,144.13 293.37,142.51 294.99,140.89 296.61,139.27 298.24,137.66 299.86,136.04 301.49,134.42 303.11,132.80 304.74,131.18 306.36,129.56 307.98,127.94 309.61,126.33 311.23,124.71 312.86,123.09 314.48,121.47 316.11,119.85 317.73,118.23 319.35,116.61 320.98,115.00 322.60,113.38 324.23,111.76 325.85,110.14 327.48,108.53 329.11,106.91 330.74,105.30 332.37,103.68 333.99,102.07 335.62,100.46 337.25,98.84 338.88,97.23 340.51,95.61 342.12,93.98 343.73,92.34 345.34,90.71 346.94,89.08 348.55,87.44 350.16,85.81 351.77,84.18 353.38,82.54 354.99,80.91 356.60,79.28 358.21,77.64 359.82,76.01 361.43,74.38 363.04,72.75 364.65,71.11 366.26,69.48 367.87,67.85 369.48,66.22 371.09,64.58 372.70,62.95 374.31,61.32 375.92,59.69 377.53,58.05 379.13,56.41 380.74,54.77 382.34,53.13 383.94,51.49 385.55,49.85 387.15,48.21 388.75,46.57 390.36,44.93 391.95,43.28 393.53,41.62 395.10,39.95 396.68,38.29 398.26,36.62 399.83,34.95 401.36,33.24 402.90,31.53 404.43,29.82 404.18,29.57 402.47,31.10 400.76,32.64 399.05,34.17 397.38,35.74 395.71,37.32 394.05,38.90 392.38,40.47 390.72,42.05 389.07,43.64 387.43,45.25 385.79,46.85 384.15,48.45 382.51,50.06 380.87,51.66 379.23,53.26 377.59,54.87 375.95,56.47 374.31,58.08 372.68,59.69 371.05,61.30 369.42,62.91 367.78,64.52 366.15,66.13 364.52,67.74 362.89,69.35 361.25,70.96 359.62,72.57 357.99,74.18 356.36,75.79 354.72,77.40 353.09,79.01 351.46,80.62 349.82,82.23 348.19,83.84 346.56,85.45 344.92,87.06 343.29,88.66 341.66,90.27 340.02,91.88 338.39,93.49 336.77,95.12 335.16,96.75 333.54,98.38 331.93,100.01 330.32,101.63 328.70,103.26 327.09,104.89 325.47,106.52 323.86,108.15 322.24,109.77 320.62,111.40 319.00,113.02 317.39,114.65 315.77,116.27 314.15,117.89 312.53,119.52 310.91,121.14 309.29,122.77 307.67,124.39 306.06,126.02 304.44,127.64 302.82,129.26 301.20,130.89 299.58,132.51 297.96,134.14 296.34,135.76 294.73,137.39 293.11,139.01 291.49,140.63 289.87,142.26 288.26,143.89 286.65,145.52 285.05,147.16 283.44,148.80 281.84,150.44 280.23,152.08 278.63,153.71 277.02,155.35 275.43,157.00 273.85,158.67 272.28,160.34 270.70,162.00 269.12,163.67 267.55,165.33 265.98,167.01 264.41,168.68 262.84,170.35 261.27,172.03 259.70,173.70" fill="url(#g5)"/>
<polygon points="260.17,174.17 261.82,172.58 263.47,170.99 265.12,169.39 266.77,167.80 268.42,166.21 270.07,164.61 271.72,163.02 273.36,161.42 275.01,159.83 276.66,158.23 278.30,156.63 279.93,155.01 281.56,153.40 283.19,151.79 284.82,150.18 286.45,148.57 288.08,146.95 289.71,145.34 291.34,143.72 292.96,142.10 294.58,140.48 296.21,138.86 297.83,137.24 299.45,135.62 301.07,134.01 302.70,132.39 304.32,130.77 305.94,129.15 307.57,127.53 309.19,125.91 310.81,124.29 312.44,122.67 314.06,121.05 315.68,119.43 317.31,117.81 318.93,116.19 320.55,114.57 322.17,112.95 323.80,111.33 325.42,109.71 327.05,108.09 328.67,106.47 330.30,104.86 331.92,103.24 333.55,101.62 335.17,100.00 336.80,98.39 338.42,96.77 340.05,95.15 341.66,93.52 343.28,91.90 344.89,90.27 346.51,88.64 348.12,87.01 349.74,85.38 351.35,83.75 352.96,82.13 354.58,80.50 356.19,78.87 357.81,77.24 359.42,75.61 361.04,73.99 362.65,72.36 364.27,70.73 365.88,69.10 367.50,67.48 369.12,65.85 370.73,64.22 372.35,62.59 373.96,60.97 375.58,59.34 377.19,57.71 378.80,56.07 380.41,54.44 382.02,52.81 383.63,51.18 385.24,49.55 386.85,47.92 388.47,46.29 390.08,44.65 391.68,43.02 393.28,41.37 394.88,39.72 396.47,38.08 398.07,36.43 399.66,34.78 401.23,33.11 402.80,31.44 404.38,29.77 404.23,29.62 402.56,31.20 400.89,32.77 399.22,34.34 397.57,35.93 395.92,37.53 394.28,39.12 392.63,40.72 390.98,42.32 389.35,43.92 387.71,45.53 386.08,47.15 384.45,48.76 382.82,50.37 381.19,51.98 379.56,53.59 377.93,55.20 376.29,56.81 374.66,58.42 373.03,60.04 371.41,61.65 369.78,63.27 368.15,64.88 366.52,66.50 364.90,68.12 363.27,69.73 361.64,71.35 360.01,72.96 358.39,74.58 356.76,76.19 355.13,77.81 353.50,79.42 351.87,81.04 350.25,82.65 348.62,84.26 346.99,85.88 345.36,87.49 343.73,89.11 342.10,90.72 340.48,92.34 338.85,93.95 337.23,95.58 335.61,97.20 334.00,98.83 332.38,100.45 330.76,102.08 329.14,103.70 327.53,105.33 325.91,106.95 324.29,108.58 322.67,110.20 321.05,111.83 319.43,113.45 317.81,115.07 316.19,116.69 314.57,118.32 312.95,119.94 311.33,121.56 309.71,123.19 308.09,124.81 306.47,126.43 304.85,128.06 303.23,129.68 301.61,131.30 299.99,132.93 298.38,134.55 296.76,136.17 295.14,137.79 293.52,139.42 291.90,141.04 290.28,142.66 288.66,144.29 287.05,145.92 285.43,147.55 283.82,149.18 282.21,150.81 280.60,152.44 278.99,154.07 277.37,155.70 275.77,157.34 274.17,158.99 272.58,160.64 270.98,162.28 269.39,163.93 267.79,165.58 266.20,167.23 264.61,168.88 263.01,170.53 261.42,172.18 259.83,173.83" fill="url(#g6)"/>
</g>
<line x1="259.55" y1="18.50" x2="415.95" y2="18.50" stroke="#262626" stroke-width="0.9"/>
<line x1="259.55" y1="174.00" x2="415.95" y2="174.00" stroke="#262626" stroke-width="1.25"/>
<line x1="260.00" y1="18.50" x2="260.00" y2="174.00" stroke="#262626" stroke-width="1.25"/>
<line x1="415.50" y1="18.50" x2="415.50" y2="174.00" stroke="#262626" stroke-width="0.9"/>
<line x1="260.00" y1="174.00" x2="260.00" y2="180.00" stroke="#262626" stroke-width="0.95"/>
<line x1="337.75" y1="174.00" x2="337.75" y2="180.00" stroke="#262626" stroke-width="0.95"/>
<line x1="415.50" y1="174.00" x2="415.50" y2="180.00" stroke="#262626" stroke-width="0.95"/>
<line x1="275.55" y1="174.00" x2="275.55" y2="177.00" stroke="#262626" stroke-width="0.95"/>
<line x1="291.10" y1="174.00" x2="291.10" y2="177.00" stroke="#262626" stroke-width="0.95"/>
<line x1="306.65" y1="174.00" x2="306.65" y2="177.00" stroke="#262626" stroke-width="0.95"/>
<line x1="322.20" y1="174.00" x2="322.20" y2="177.00" stroke="#262626" stroke-width="0.95"/>
<line x1="353.30" y1="174.00" x2="353.30" y2="177.00" stroke="#262626" stroke-width="0.95"/>
<line x1="368.85" y1="174.00" x2="368.85" y2="177.00" stroke="#262626" stroke-width="0.95"/>
<line x1="384.40" y1="174.00" x2="384.40" y2="177.00" stroke="#262626" stroke-width="0.95"/>
<line x1="399.95" y1="174.00" x2="399.95" y2="177.00" stroke="#262626" stroke-width="0.95"/>
<line x1="254.00" y1="174.00" x2="260.00" y2="174.00" stroke="#262626" stroke-width="0.95"/>
<line x1="254.00" y1="96.25" x2="260.00" y2="96.25" stroke="#262626" stroke-width="0.95"/>
<line x1="254.00" y1="18.50" x2="260.00" y2="18.50" stroke="#262626" stroke-width="0.95"/>
<line x1="257.00" y1="158.45" x2="260.00" y2="158.45" stroke="#262626" stroke-width="0.95"/>
<line x1="257.00" y1="142.90" x2="260.00" y2="142.90" stroke="#262626" stroke-width="0.95"/>
<line x1="257.00" y1="127.35" x2="260.00" y2="127.35" stroke="#262626" stroke-width="0.95"/>
<line x1="257.00" y1="111.80" x2="260.00" y2="111.80" stroke="#262626" stroke-width="0.95"/>
<line x1="257.00" y1="80.70" x2="260.00" y2="80.70" stroke="#262626" stroke-width="0.95"/>
<line x1="257.00" y1="65.15" x2="260.00" y2="65.15" stroke="#262626" stroke-width="0.95"/>
<line x1="257.00" y1="49.60" x2="260.00" y2="49.60" stroke="#262626" stroke-width="0.95"/>
<line x1="257.00" y1="34.05" x2="260.00" y2="34.05" stroke="#262626" stroke-width="0.95"/>
<text x="260.00" y="192.20" font-size="12.3" letter-spacing="0.45" text-anchor="middle" fill="#000" >0</text>
<text x="251.55" y="179.20" font-size="12.3" letter-spacing="0.45" text-anchor="end" fill="#000" >0</text>
<text x="337.75" y="192.20" font-size="12.3" letter-spacing="0.45" text-anchor="middle" fill="#000" >0.5</text>
<text x="251.55" y="100.65" font-size="12.3" letter-spacing="0.45" text-anchor="end" fill="#000" >0.5</text>
<text x="415.50" y="192.20" font-size="12.3" letter-spacing="0.45" text-anchor="middle" fill="#000" >1</text>
<text x="251.55" y="23.40" font-size="12.3" letter-spacing="0.45" text-anchor="end" fill="#000" >1</text>
<text x="260.10" y="31.40" font-size="12.3" letter-spacing="0.1" text-anchor="start" fill="#000" >(b)</text>
<text x="259.50" y="49.2" font-size="12.3" letter-spacing="0.45" fill="#000">R<tspan font-size="9" dy="-4.6">2</tspan><tspan dy="4.6" dx="-0.6"> = 1.000</tspan></text>
<text x="259.50" y="62.90" font-size="12.3" letter-spacing="0.45" text-anchor="start" fill="#000" >RMSE=0.0032</text>
<text x="259.50" y="76.60" font-size="12.3" letter-spacing="0.45" text-anchor="start" fill="#000" >MAE=0.0023</text>
<line x1="549.25" y1="18.50" x2="549.25" y2="174.00" stroke="#dddddd" stroke-width="1"/>
<line x1="471.50" y1="96.25" x2="627.00" y2="96.25" stroke="#dddddd" stroke-width="1"/>
<clipPath id="clip2"><rect x="471.5" y="18.5" width="155.5" height="155.5"/></clipPath>
<linearGradient id="g7" gradientUnits="userSpaceOnUse" x1="471.50" y1="174.00" x2="625.44" y2="20.06"><stop offset="0.0000" stop-color="#64acb5"/><stop offset="0.0125" stop-color="#60a7b7"/><stop offset="0.0250" stop-color="#5ca1b9"/><stop offset="0.0375" stop-color="#589cba"/><stop offset="0.0500" stop-color="#5496bc"/><stop offset="0.0625" stop-color="#5291bc"/><stop offset="0.0750" stop-color="#538ab9"/><stop offset="0.0875" stop-color="#5384b7"/><stop offset="0.1000" stop-color="#537eb4"/><stop offset="0.1125" stop-color="#5479b2"/><stop offset="0.1250" stop-color="#5474b0"/><stop offset="0.1375" stop-color="#5470af"/><stop offset="0.1500" stop-color="#546bad"/><stop offset="0.1625" stop-color="#5567ab"/><stop offset="0.1750" stop-color="#5562a9"/><stop offset="0.1875" stop-color="#555fa8"/><stop offset="0.2000" stop-color="#565da7"/><stop offset="0.2125" stop-color="#575da7"/><stop offset="0.2250" stop-color="#575da7"/><stop offset="0.2375" stop-color="#575da7"/><stop offset="0.2500" stop-color="#575da7"/><stop offset="0.2625" stop-color="#575da7"/><stop offset="0.2750" stop-color="#575da7"/><stop offset="0.2875" stop-color="#575da7"/><stop offset="0.3000" stop-color="#575da7"/><stop offset="0.3125" stop-color="#575da7"/><stop offset="0.3250" stop-color="#575da7"/><stop offset="0.3375" stop-color="#575da7"/><stop offset="0.3500" stop-color="#575da7"/><stop offset="0.3625" stop-color="#575da7"/><stop offset="0.3750" stop-color="#575da7"/><stop offset="0.3875" stop-color="#575da7"/><stop offset="0.4000" stop-color="#575da7"/><stop offset="0.4125" stop-color="#575da7"/><stop offset="0.4250" stop-color="#575da7"/><stop offset="0.4375" stop-color="#575da7"/><stop offset="0.4500" stop-color="#575da7"/><stop offset="0.4625" stop-color="#575da7"/><stop offset="0.4750" stop-color="#575da7"/><stop offset="0.4875" stop-color="#575da7"/><stop offset="0.5000" stop-color="#575da7"/><stop offset="0.5125" stop-color="#575da7"/><stop offset="0.5250" stop-color="#575da7"/><stop offset="0.5375" stop-color="#575da7"/><stop offset="0.5500" stop-color="#575da7"/><stop offset="0.5625" stop-color="#575da7"/><stop offset="0.5750" stop-color="#575da7"/><stop offset="0.5875" stop-color="#575da7"/><stop offset="0.6000" stop-color="#575da7"/><stop offset="0.6125" stop-color="#575da7"/><stop offset="0.6250" stop-color="#575da7"/><stop offset="0.6375" stop-color="#575da7"/><stop offset="0.6500" stop-color="#575da7"/><stop offset="0.6625" stop-color="#575da7"/><stop offset="0.6750" stop-color="#575da7"/><stop offset="0.6875" stop-color="#575da7"/><stop offset="0.7000" stop-color="#575da7"/><stop offset="0.7125" stop-color="#575da7"/><stop offset="0.7250" stop-color="#575da7"/><stop offset="0.7375" stop-color="#575da7"/><stop offset="0.7500" stop-color="#575da7"/><stop offset="0.7625" stop-color="#575da7"/><stop offset="0.7750" stop-color="#565da7"/><stop offset="0.7875" stop-color="#565ea8"/><stop offset="0.8000" stop-color="#565ea8"/><stop offset="0.8125" stop-color="#565ea8"/><stop offset="0.8250" stop-color="#565fa8"/><stop offset="0.8375" stop-color="#555fa8"/><stop offset="0.8500" stop-color="#5560a8"/><stop offset="0.8625" stop-color="#5561a8"/><stop offset="0.8750" stop-color="#5562a9"/><stop offset="0.8875" stop-color="#5564aa"/><stop offset="0.9000" stop-color="#5566aa"/><stop offset="0.9125" stop-color="#5568ab"/><stop offset="0.9250" stop-color="#546aac"/><stop offset="0.9375" stop-color="#546bad"/><stop offset="0.9500" stop-color="#546dad"/><stop offset="0.9625" stop-color="#5472af"/><stop offset="0.9750" stop-color="#537eb4"/><stop offset="0.9875" stop-color="#528bba"/><stop offset="1.0000" stop-color="#5597bc"/></linearGradient>
<linearGradient id="g8" gradientUnits="userSpaceOnUse" x1="471.50" y1="174.00" x2="625.44" y2="20.06"><stop offset="0.0000" stop-color="#8cd7a8"/><stop offset="0.0125" stop-color="#88d5a9"/><stop offset="0.0250" stop-color="#84d4a9"/><stop offset="0.0375" stop-color="#81d2aa"/><stop offset="0.0500" stop-color="#7ecfab"/><stop offset="0.0625" stop-color="#7bcbac"/><stop offset="0.0750" stop-color="#78c7ad"/><stop offset="0.0875" stop-color="#75c3ae"/><stop offset="0.1000" stop-color="#72bfb0"/><stop offset="0.1125" stop-color="#6eb9b2"/><stop offset="0.1250" stop-color="#69b2b4"/><stop offset="0.1375" stop-color="#64abb6"/><stop offset="0.1500" stop-color="#5fa4b8"/><stop offset="0.1625" stop-color="#5a9eba"/><stop offset="0.1750" stop-color="#5597bc"/><stop offset="0.1875" stop-color="#5292bd"/><stop offset="0.2000" stop-color="#528fbb"/><stop offset="0.2125" stop-color="#528dba"/><stop offset="0.2250" stop-color="#538ab9"/><stop offset="0.2375" stop-color="#5388b8"/><stop offset="0.2500" stop-color="#5385b7"/><stop offset="0.2625" stop-color="#5384b7"/><stop offset="0.2750" stop-color="#5384b7"/><stop offset="0.2875" stop-color="#5384b7"/><stop offset="0.3000" stop-color="#5384b7"/><stop offset="0.3125" stop-color="#5384b7"/><stop offset="0.3250" stop-color="#5384b7"/><stop offset="0.3375" stop-color="#5384b7"/><stop offset="0.3500" stop-color="#5384b7"/><stop offset="0.3625" stop-color="#5384b7"/><stop offset="0.3750" stop-color="#5384b7"/><stop offset="0.3875" stop-color="#5384b7"/><stop offset="0.4000" stop-color="#5384b7"/><stop offset="0.4125" stop-color="#5384b7"/><stop offset="0.4250" stop-color="#5384b7"/><stop offset="0.4375" stop-color="#5384b7"/><stop offset="0.4500" stop-color="#5384b7"/><stop offset="0.4625" stop-color="#5384b7"/><stop offset="0.4750" stop-color="#5384b7"/><stop offset="0.4875" stop-color="#5384b7"/><stop offset="0.5000" stop-color="#5384b7"/><stop offset="0.5125" stop-color="#5384b7"/><stop offset="0.5250" stop-color="#5384b7"/><stop offset="0.5375" stop-color="#5384b7"/><stop offset="0.5500" stop-color="#5384b7"/><stop offset="0.5625" stop-color="#5384b7"/><stop offset="0.5750" stop-color="#5384b7"/><stop offset="0.5875" stop-color="#5384b7"/><stop offset="0.6000" stop-color="#5384b7"/><stop offset="0.6125" stop-color="#5384b7"/><stop offset="0.6250" stop-color="#5384b7"/><stop offset="0.6375" stop-color="#5384b7"/><stop offset="0.6500" stop-color="#5384b7"/><stop offset="0.6625" stop-color="#5384b7"/><stop offset="0.6750" stop-color="#5384b7"/><stop offset="0.6875" stop-color="#5384b7"/><stop offset="0.7000" stop-color="#5384b7"/><stop offset="0.7125" stop-color="#5384b7"/><stop offset="0.7250" stop-color="#5384b7"/><stop offset="0.7375" stop-color="#5384b7"/><stop offset="0.7500" stop-color="#5384b7"/><stop offset="0.7625" stop-color="#5384b7"/><stop offset="0.7750" stop-color="#5292bd"/><stop offset="0.7875" stop-color="#60a6b7"/><stop offset="0.8000" stop-color="#6fbab1"/><stop offset="0.8125" stop-color="#8fd8a8"/><stop offset="0.8250" stop-color="#b9eaa3"/><stop offset="0.8375" stop-color="#def9a0"/><stop offset="0.8500" stop-color="#f1f6b2"/><stop offset="0.8625" stop-color="#ebb269"/><stop offset="0.8750" stop-color="#df584c"/><stop offset="0.8875" stop-color="#b2294e"/><stop offset="0.9000" stop-color="#9f1d4b"/><stop offset="0.9125" stop-color="#9f1d4b"/><stop offset="0.9250" stop-color="#b1294e"/><stop offset="0.9375" stop-color="#db524d"/><stop offset="0.9500" stop-color="#ebb46a"/><stop offset="0.9625" stop-color="#f3febe"/><stop offset="0.9750" stop-color="#dbf8a0"/><stop offset="0.9875" stop-color="#b9e9a3"/><stop offset="1.0000" stop-color="#aae4a4"/></linearGradient>
<g clip-path="url(#clip2)">
<polygon points="472.31,174.81 474.07,173.11 475.83,171.41 477.58,169.70 479.34,168.00 481.09,166.30 482.85,164.59 484.60,162.89 486.36,161.19 488.12,159.48 489.87,157.78 491.63,156.07 493.38,154.37 495.14,152.67 496.89,150.96 498.63,149.24 500.38,147.53 502.12,145.81 503.86,144.09 505.61,142.38 507.35,140.66 509.09,138.95 510.84,137.23 512.58,135.51 514.32,133.80 516.07,132.08 517.81,130.37 519.56,128.65 521.30,126.93 523.04,125.22 524.79,123.50 526.53,121.79 528.27,120.06 530.00,118.34 531.73,116.61 533.46,114.88 535.19,113.15 536.92,111.42 538.65,109.70 540.39,107.97 542.12,106.24 543.85,104.51 545.58,102.78 547.31,101.06 549.04,99.33 550.78,97.60 552.51,95.87 554.24,94.14 555.97,92.42 557.70,90.69 559.43,88.96 561.16,87.23 562.90,85.50 564.63,83.78 566.36,82.05 568.09,80.32 569.82,78.59 571.55,76.86 573.28,75.14 575.02,73.41 576.75,71.68 578.48,69.95 580.21,68.23 581.94,66.50 583.67,64.77 585.40,63.04 587.14,61.31 588.87,59.59 590.60,57.86 592.33,56.13 594.06,54.40 595.79,52.67 597.53,50.95 599.28,49.24 601.03,47.53 602.78,45.82 604.53,44.12 606.28,42.41 608.04,40.70 609.79,38.99 611.54,37.28 613.21,35.50 614.88,33.71 616.55,31.92 618.22,30.13 619.89,28.34 621.54,26.53 623.17,24.69 624.79,22.86 626.42,21.03 624.47,19.08 622.64,20.71 620.81,22.33 618.97,23.96 617.16,25.61 615.37,27.28 613.58,28.95 611.79,30.62 610.00,32.29 608.22,33.96 606.51,35.71 604.80,37.46 603.09,39.22 601.38,40.97 599.68,42.72 597.97,44.47 596.26,46.22 594.55,47.97 592.83,49.71 591.10,51.44 589.37,53.17 587.64,54.90 585.91,56.63 584.19,58.36 582.46,60.10 580.73,61.83 579.00,63.56 577.27,65.29 575.55,67.02 573.82,68.75 572.09,70.48 570.36,72.22 568.64,73.95 566.91,75.68 565.18,77.41 563.45,79.14 561.72,80.87 560.00,82.60 558.27,84.34 556.54,86.07 554.81,87.80 553.08,89.53 551.36,91.26 549.63,92.99 547.90,94.72 546.17,96.46 544.44,98.19 542.72,99.92 540.99,101.65 539.26,103.38 537.53,105.11 535.80,106.85 534.08,108.58 532.35,110.31 530.62,112.04 528.89,113.77 527.16,115.50 525.44,117.23 523.71,118.97 522.00,120.71 520.28,122.46 518.57,124.20 516.85,125.94 515.13,127.69 513.42,129.43 511.70,131.18 509.99,132.92 508.27,134.66 506.55,136.41 504.84,138.15 503.12,139.89 501.41,141.64 499.69,143.38 497.97,145.12 496.26,146.87 494.54,148.61 492.83,150.36 491.13,152.12 489.43,153.87 487.72,155.63 486.02,157.38 484.31,159.14 482.61,160.90 480.91,162.65 479.20,164.41 477.50,166.16 475.80,167.92 474.09,169.67 472.39,171.43 470.69,173.19" fill="url(#g7)" fill-opacity="0.35"/>
<g fill="#5859a7"><circle cx="569.59" cy="78.86" r="0.57"/><circle cx="522.56" cy="125.87" r="0.50"/><circle cx="595.20" cy="47.71" r="0.59"/><circle cx="518.95" cy="128.55" r="0.63"/><circle cx="552.28" cy="96.44" r="0.74"/><circle cx="569.32" cy="79.43" r="0.56"/><circle cx="501.56" cy="145.37" r="0.51"/><circle cx="553.41" cy="94.57" r="0.78"/><circle cx="567.43" cy="75.51" r="0.57"/><circle cx="479.90" cy="166.67" r="0.71"/><circle cx="507.42" cy="139.55" r="0.75"/><circle cx="499.14" cy="144.62" r="0.76"/><circle cx="552.79" cy="95.43" r="0.72"/><circle cx="491.86" cy="155.56" r="0.65"/><circle cx="605.22" cy="43.23" r="0.52"/><circle cx="532.63" cy="110.63" r="0.55"/><circle cx="594.14" cy="48.06" r="0.68"/><circle cx="563.84" cy="78.91" r="0.70"/><circle cx="500.32" cy="146.86" r="0.62"/><circle cx="490.38" cy="152.58" r="0.56"/><circle cx="573.32" cy="69.08" r="0.70"/><circle cx="495.45" cy="147.55" r="0.78"/><circle cx="609.68" cy="38.25" r="0.56"/><circle cx="613.39" cy="35.02" r="0.55"/><circle cx="607.07" cy="41.39" r="0.61"/><circle cx="538.19" cy="109.44" r="0.51"/><circle cx="605.90" cy="42.50" r="0.60"/><circle cx="585.42" cy="58.16" r="0.61"/><circle cx="483.18" cy="164.58" r="0.70"/><circle cx="538.36" cy="104.61" r="0.76"/><circle cx="526.10" cy="116.66" r="0.61"/><circle cx="554.23" cy="94.18" r="0.77"/><circle cx="498.84" cy="145.30" r="0.73"/><circle cx="596.00" cy="51.60" r="0.63"/><circle cx="597.03" cy="51.27" r="0.74"/><circle cx="550.47" cy="92.18" r="0.57"/><circle cx="507.24" cy="139.97" r="0.60"/><circle cx="613.49" cy="29.27" r="0.60"/><circle cx="515.82" cy="127.42" r="0.79"/><circle cx="553.54" cy="94.52" r="0.77"/><circle cx="586.39" cy="61.60" r="0.76"/><circle cx="538.77" cy="109.82" r="0.52"/><circle cx="538.31" cy="104.05" r="0.58"/><circle cx="595.73" cy="52.63" r="0.72"/><circle cx="569.93" cy="77.89" r="0.62"/><circle cx="507.79" cy="139.25" r="0.56"/><circle cx="611.34" cy="36.57" r="0.68"/><circle cx="548.33" cy="99.82" r="0.70"/><circle cx="520.85" cy="122.28" r="0.69"/><circle cx="570.64" cy="76.98" r="0.52"/><circle cx="535.74" cy="106.82" r="0.72"/><circle cx="495.31" cy="152.73" r="0.74"/><circle cx="606.38" cy="42.55" r="0.51"/><circle cx="482.50" cy="163.92" r="0.58"/><circle cx="514.81" cy="133.06" r="0.51"/><circle cx="562.05" cy="81.37" r="0.70"/><circle cx="479.62" cy="163.71" r="0.66"/><circle cx="593.68" cy="48.98" r="0.68"/><circle cx="506.08" cy="140.91" r="0.74"/><circle cx="618.10" cy="30.42" r="0.52"/></g>
<polygon points="471.99,174.49 473.75,172.79 475.51,171.09 477.26,169.38 479.02,167.68 480.77,165.98 482.53,164.27 484.29,162.57 486.04,160.87 487.80,159.16 489.55,157.46 491.31,155.76 493.07,154.05 494.82,152.35 496.57,150.64 498.32,148.92 500.06,147.21 501.80,145.49 503.55,143.78 505.29,142.06 507.03,140.34 508.78,138.63 510.52,136.91 512.26,135.20 514.01,133.48 515.75,131.76 517.49,130.05 519.24,128.33 520.98,126.62 522.72,124.90 524.47,123.18 526.21,121.47 527.95,119.75 529.68,118.02 531.41,116.29 533.14,114.56 534.87,112.83 536.61,111.11 538.34,109.38 540.07,107.65 541.80,105.92 543.53,104.19 545.26,102.47 546.99,100.74 548.73,99.01 550.46,97.28 552.19,95.55 553.92,93.83 555.65,92.10 557.38,90.37 559.11,88.64 560.85,86.91 562.58,85.19 564.31,83.46 566.04,81.73 567.77,80.00 569.50,78.27 571.23,76.55 572.97,74.82 574.70,73.09 576.43,71.36 578.16,69.63 579.89,67.91 581.62,66.18 583.35,64.45 585.09,62.72 586.82,60.99 588.55,59.27 590.28,57.54 592.01,55.81 593.74,54.08 595.48,52.36 597.21,50.63 598.96,48.92 600.71,47.21 602.46,45.51 604.21,43.80 605.97,42.09 607.72,40.38 609.47,38.67 611.22,36.97 612.89,35.18 614.56,33.39 616.23,31.60 617.90,29.81 619.58,28.02 621.22,26.21 622.85,24.38 624.48,22.54 626.10,20.71 624.79,19.40 622.96,21.02 621.12,22.65 619.29,24.28 617.48,25.92 615.69,27.60 613.90,29.27 612.11,30.94 610.32,32.61 608.53,34.28 606.83,36.03 605.12,37.78 603.41,39.53 601.70,41.29 599.99,43.04 598.29,44.79 596.58,46.54 594.87,48.29 593.14,50.02 591.42,51.76 589.69,53.49 587.96,55.22 586.23,56.95 584.51,58.68 582.78,60.41 581.05,62.15 579.32,63.88 577.59,65.61 575.87,67.34 574.14,69.07 572.41,70.80 570.68,72.53 568.95,74.27 567.23,76.00 565.50,77.73 563.77,79.46 562.04,81.19 560.31,82.92 558.59,84.65 556.86,86.39 555.13,88.12 553.40,89.85 551.67,91.58 549.95,93.31 548.22,95.04 546.49,96.77 544.76,98.51 543.03,100.24 541.31,101.97 539.58,103.70 537.85,105.43 536.12,107.16 534.39,108.89 532.67,110.63 530.94,112.36 529.21,114.09 527.48,115.82 525.75,117.55 524.03,119.29 522.32,121.03 520.60,122.78 518.88,124.52 517.17,126.26 515.45,128.01 513.74,129.75 512.02,131.49 510.30,133.24 508.59,134.98 506.87,136.72 505.16,138.47 503.44,140.21 501.72,141.95 500.01,143.70 498.29,145.44 496.58,147.18 494.86,148.93 493.15,150.68 491.45,152.43 489.74,154.19 488.04,155.95 486.34,157.70 484.63,159.46 482.93,161.21 481.23,162.97 479.52,164.73 477.82,166.48 476.12,168.24 474.41,169.99 472.71,171.75 471.01,173.51" fill="url(#g7)"/>
<polygon points="471.82,174.32 473.57,172.61 475.32,170.90 477.06,169.18 478.81,167.47 480.56,165.76 482.30,164.05 484.05,162.33 485.80,160.62 487.54,158.91 489.29,157.19 491.04,155.48 492.78,153.77 494.53,152.06 496.27,150.34 498.01,148.62 499.75,146.90 501.49,145.18 503.23,143.46 504.97,141.74 506.70,140.02 508.44,138.29 510.18,136.57 511.92,134.85 513.66,133.13 515.40,131.41 517.14,129.69 518.87,127.97 520.61,126.25 522.35,124.53 524.09,122.81 525.83,121.09 527.56,119.36 529.29,117.63 531.03,115.90 532.76,114.18 534.49,112.45 536.22,110.72 537.95,108.99 539.68,107.26 541.41,105.53 543.14,103.80 544.87,102.08 546.60,100.35 548.33,98.62 550.07,96.89 551.80,95.16 553.53,93.43 555.26,91.70 556.99,89.98 558.72,88.25 560.45,86.52 562.18,84.79 563.91,83.06 565.64,81.33 567.37,79.60 569.10,77.88 570.84,76.15 572.57,74.42 574.30,72.69 576.03,70.96 577.76,69.23 579.49,67.50 581.22,65.78 582.95,64.05 584.68,62.32 586.41,60.59 588.14,58.86 589.87,57.13 591.61,55.40 593.34,53.68 595.07,51.95 596.80,50.22 598.54,48.50 600.29,46.79 602.03,45.07 603.77,43.36 605.52,41.64 607.26,39.93 609.01,38.21 610.75,36.50 612.44,34.73 614.13,32.96 615.83,31.19 617.52,29.42 619.21,27.66 620.88,25.87 622.55,24.07 624.21,22.28 625.87,20.48 625.02,19.63 623.22,21.29 621.43,22.95 619.63,24.62 617.84,26.29 616.08,27.98 614.31,29.67 612.54,31.37 610.77,33.06 609.00,34.75 607.29,36.49 605.57,38.24 603.86,39.98 602.14,41.73 600.43,43.47 598.71,45.21 597.00,46.96 595.28,48.70 593.55,50.43 591.82,52.16 590.10,53.89 588.37,55.63 586.64,57.36 584.91,59.09 583.18,60.82 581.45,62.55 579.72,64.28 578.00,66.01 576.27,67.74 574.54,69.47 572.81,71.20 571.08,72.93 569.35,74.66 567.62,76.40 565.90,78.13 564.17,79.86 562.44,81.59 560.71,83.32 558.98,85.05 557.25,86.78 555.52,88.51 553.80,90.24 552.07,91.97 550.34,93.70 548.61,95.43 546.88,97.17 545.15,98.90 543.42,100.63 541.70,102.36 539.97,104.09 538.24,105.82 536.51,107.55 534.78,109.28 533.05,111.01 531.32,112.74 529.60,114.47 527.87,116.21 526.14,117.94 524.41,119.67 522.69,121.41 520.97,123.15 519.25,124.89 517.53,126.63 515.81,128.36 514.09,130.10 512.37,131.84 510.65,133.58 508.93,135.32 507.21,137.06 505.48,138.80 503.76,140.53 502.04,142.27 500.32,144.01 498.60,145.75 496.88,147.49 495.16,149.23 493.44,150.97 491.73,152.72 490.02,154.46 488.31,156.21 486.59,157.96 484.88,159.70 483.17,161.45 481.45,163.20 479.74,164.94 478.03,166.69 476.32,168.44 474.60,170.18 472.89,171.93 471.18,173.68" fill="url(#g8)"/>
</g>
<line x1="471.05" y1="18.50" x2="627.45" y2="18.50" stroke="#262626" stroke-width="0.9"/>
<line x1="471.05" y1="174.00" x2="627.45" y2="174.00" stroke="#262626" stroke-width="1.25"/>
<line x1="471.50" y1="18.50" x2="471.50" y2="174.00" stroke="#262626" stroke-width="0.9"/>
<line x1="627.00" y1="18.50" x2="627.00" y2="174.00" stroke="#262626" stroke-width="1.25"/>
<line x1="471.50" y1="174.00" x2="471.50" y2="180.00" stroke="#262626" stroke-width="0.95"/>
<line x1="549.25" y1="174.00" x2="549.25" y2="180.00" stroke="#262626" stroke-width="0.95"/>
<line x1="627.00" y1="174.00" x2="627.00" y2="180.00" stroke="#262626" stroke-width="0.95"/>
<line x1="487.05" y1="174.00" x2="487.05" y2="177.00" stroke="#262626" stroke-width="0.95"/>
<line x1="502.60" y1="174.00" x2="502.60" y2="177.00" stroke="#262626" stroke-width="0.95"/>
<line x1="518.15" y1="174.00" x2="518.15" y2="177.00" stroke="#262626" stroke-width="0.95"/>
<line x1="533.70" y1="174.00" x2="533.70" y2="177.00" stroke="#262626" stroke-width="0.95"/>
<line x1="564.80" y1="174.00" x2="564.80" y2="177.00" stroke="#262626" stroke-width="0.95"/>
<line x1="580.35" y1="174.00" x2="580.35" y2="177.00" stroke="#262626" stroke-width="0.95"/>
<line x1="595.90" y1="174.00" x2="595.90" y2="177.00" stroke="#262626" stroke-width="0.95"/>
<line x1="611.45" y1="174.00" x2="611.45" y2="177.00" stroke="#262626" stroke-width="0.95"/>
<line x1="465.50" y1="174.00" x2="471.50" y2="174.00" stroke="#262626" stroke-width="0.95"/>
<line x1="465.50" y1="96.25" x2="471.50" y2="96.25" stroke="#262626" stroke-width="0.95"/>
<line x1="465.50" y1="18.50" x2="471.50" y2="18.50" stroke="#262626" stroke-width="0.95"/>
<line x1="468.50" y1="158.45" x2="471.50" y2="158.45" stroke="#262626" stroke-width="0.95"/>
<line x1="468.50" y1="142.90" x2="471.50" y2="142.90" stroke="#262626" stroke-width="0.95"/>
<line x1="468.50" y1="127.35" x2="471.50" y2="127.35" stroke="#262626" stroke-width="0.95"/>
<line x1="468.50" y1="111.80" x2="471.50" y2="111.80" stroke="#262626" stroke-width="0.95"/>
<line x1="468.50" y1="80.70" x2="471.50" y2="80.70" stroke="#262626" stroke-width="0.95"/>
<line x1="468.50" y1="65.15" x2="471.50" y2="65.15" stroke="#262626" stroke-width="0.95"/>
<line x1="468.50" y1="49.60" x2="471.50" y2="49.60" stroke="#262626" stroke-width="0.95"/>
<line x1="468.50" y1="34.05" x2="471.50" y2="34.05" stroke="#262626" stroke-width="0.95"/>
<text x="471.50" y="192.20" font-size="12.3" letter-spacing="0.45" text-anchor="middle" fill="#000" >0</text>
<text x="463.05" y="179.20" font-size="12.3" letter-spacing="0.45" text-anchor="end" fill="#000" >0</text>
<text x="549.25" y="192.20" font-size="12.3" letter-spacing="0.45" text-anchor="middle" fill="#000" >0.5</text>
<text x="463.05" y="100.65" font-size="12.3" letter-spacing="0.45" text-anchor="end" fill="#000" >0.5</text>
<text x="627.00" y="192.20" font-size="12.3" letter-spacing="0.45" text-anchor="middle" fill="#000" >1</text>
<text x="463.05" y="23.40" font-size="12.3" letter-spacing="0.45" text-anchor="end" fill="#000" >1</text>
<text x="471.60" y="31.40" font-size="12.3" letter-spacing="0.1" text-anchor="start" fill="#000" >(c)</text>
<text x="471.00" y="49.2" font-size="12.3" letter-spacing="0.45" fill="#000">R<tspan font-size="9" dy="-4.6">2</tspan><tspan dy="4.6" dx="-0.6"> = 1.000</tspan></text>
<text x="471.00" y="62.90" font-size="12.3" letter-spacing="0.45" text-anchor="start" fill="#000" >RMSE=0.0023</text>
<text x="471.00" y="76.60" font-size="12.3" letter-spacing="0.45" text-anchor="start" fill="#000" >MAE=0.0017</text>
<g transform="translate(0,11.5) scale(1,1.12) translate(0,-11.5)"><text x="113.3" y="11.5" font-size="14.2" letter-spacing="0.2" fill="#000">Q<tspan font-size="10.4" dy="1.85">ext</tspan></text></g>
<polyline points="322.10,4.0 317.20,8.1 322.10,12.1" fill="none" stroke="#000" stroke-width="1.05"/>
<polyline points="353.30,4.0 358.20,8.1 353.30,12.1" fill="none" stroke="#000" stroke-width="1.05"/>
<g transform="translate(0,11.5) scale(1,1.12) translate(0,-11.5)"><text x="337.7" y="11.5" font-size="14.2" letter-spacing="0.1" text-anchor="middle" fill="#000">SSA</text></g>
<polyline points="542.20,4.0 537.30,8.1 542.20,12.1" fill="none" stroke="#000" stroke-width="1.05"/>
<polyline points="556.10,4.0 561.00,8.1 556.10,12.1" fill="none" stroke="#000" stroke-width="1.05"/>
<g transform="translate(0,11.5) scale(1,1.12) translate(0,-11.5)"><text x="549.2" y="11.5" font-size="14.2" text-anchor="middle" fill="#000">G</text></g>
<defs><linearGradient id="cb" x1="0" y1="0" x2="0" y2="1"><stop offset="0.000" stop-color="#9f1d4b"/><stop offset="0.025" stop-color="#ab254d"/><stop offset="0.050" stop-color="#b72d4e"/><stop offset="0.075" stop-color="#c33450"/><stop offset="0.100" stop-color="#cf3c52"/><stop offset="0.125" stop-color="#d64850"/><stop offset="0.150" stop-color="#dc534d"/><stop offset="0.175" stop-color="#e35f4a"/><stop offset="0.200" stop-color="#e96a48"/><stop offset="0.225" stop-color="#ea784d"/><stop offset="0.250" stop-color="#ea8652"/><stop offset="0.275" stop-color="#ea9357"/><stop offset="0.300" stop-color="#eba15c"/><stop offset="0.325" stop-color="#ebaf66"/><stop offset="0.350" stop-color="#ecbd70"/><stop offset="0.375" stop-color="#ecca7a"/><stop offset="0.400" stop-color="#ecd884"/><stop offset="0.425" stop-color="#eee192"/><stop offset="0.450" stop-color="#efea9f"/><stop offset="0.475" stop-color="#f1f3ad"/><stop offset="0.500" stop-color="#f2fbbb"/><stop offset="0.525" stop-color="#f0febb"/><stop offset="0.550" stop-color="#ebfdb2"/><stop offset="0.575" stop-color="#e7fca9"/><stop offset="0.600" stop-color="#e2fba0"/><stop offset="0.625" stop-color="#d8f7a1"/><stop offset="0.650" stop-color="#cef2a1"/><stop offset="0.675" stop-color="#c3eea2"/><stop offset="0.700" stop-color="#b9eaa3"/><stop offset="0.725" stop-color="#ace4a4"/><stop offset="0.750" stop-color="#9ddea6"/><stop offset="0.775" stop-color="#8fd8a8"/><stop offset="0.800" stop-color="#80d2aa"/><stop offset="0.825" stop-color="#74c2af"/><stop offset="0.850" stop-color="#69b2b4"/><stop offset="0.875" stop-color="#5ea3b8"/><stop offset="0.900" stop-color="#5293bd"/><stop offset="0.925" stop-color="#5381b5"/><stop offset="0.950" stop-color="#546fae"/><stop offset="0.975" stop-color="#565ea8"/><stop offset="1.000" stop-color="#5a56a6"/></linearGradient></defs>
<rect x="637.0" y="18.5" width="21.0" height="155.2" fill="url(#cb)" stroke="#262626" stroke-width="1"/>
<line x1="658.00" y1="142.66" x2="663.70" y2="142.66" stroke="#262626" stroke-width="1"/>
<text x="666.50" y="147.56" font-size="12.3" letter-spacing="0.45" text-anchor="start" fill="#000" >0.2</text>
<line x1="658.00" y1="111.62" x2="663.70" y2="111.62" stroke="#262626" stroke-width="1"/>
<text x="666.50" y="116.52" font-size="12.3" letter-spacing="0.45" text-anchor="start" fill="#000" >0.4</text>
<line x1="658.00" y1="80.58" x2="663.70" y2="80.58" stroke="#262626" stroke-width="1"/>
<text x="666.50" y="85.48" font-size="12.3" letter-spacing="0.45" text-anchor="start" fill="#000" >0.6</text>
<line x1="658.00" y1="49.54" x2="663.70" y2="49.54" stroke="#262626" stroke-width="1"/>
<text x="666.50" y="54.44" font-size="12.3" letter-spacing="0.45" text-anchor="start" fill="#000" >0.8</text>
<line x1="658.00" y1="18.50" x2="663.70" y2="18.50" stroke="#262626" stroke-width="1"/>
<text x="666.50" y="23.40" font-size="12.3" letter-spacing="0.45" text-anchor="start" fill="#000" >1</text>
<text x="0.00" y="0.00" font-size="12.3" letter-spacing="0.6" text-anchor="middle" fill="#000" transform="translate(23.8,97.2) rotate(-90)">inferred value</text>
<text x="337.50" y="209.80" font-size="12.3" letter-spacing="0.25" text-anchor="middle" fill="#000" >true value</text>
<line x1="48.50" y1="355.67" x2="203.50" y2="355.67" stroke="#dddddd" stroke-width="1"/>
<line x1="48.50" y1="329.83" x2="203.50" y2="329.83" stroke="#dddddd" stroke-width="1"/>
<line x1="48.50" y1="304.00" x2="203.50" y2="304.00" stroke="#dddddd" stroke-width="1"/>
<line x1="48.50" y1="278.17" x2="203.50" y2="278.17" stroke="#dddddd" stroke-width="1"/>
<line x1="48.50" y1="252.33" x2="203.50" y2="252.33" stroke="#dddddd" stroke-width="1"/>
<line x1="126.00" y1="226.50" x2="126.00" y2="381.50" stroke="#dddddd" stroke-width="1"/>
<path d="M48.50,380.59 L48.81,380.58 L49.12,380.57 L49.43,380.56 L49.74,380.54 L50.05,380.53 L50.36,380.52 L50.67,380.51 L50.98,380.50 L51.30,380.49 L51.61,380.48 L51.92,380.47 L52.23,380.46 L52.54,380.44 L52.85,380.43 L53.16,380.42 L53.47,380.41 L53.78,380.40 L54.09,380.39 L54.40,380.37 L54.71,380.36 L55.02,380.35 L55.33,380.34 L55.64,380.33 L55.95,380.31 L56.27,380.30 L56.58,380.29 L56.89,380.27 L57.20,380.26 L57.51,380.25 L57.82,380.24 L58.13,380.22 L58.44,380.21 L58.75,380.20 L59.06,380.18 L59.37,380.17 L59.68,380.15 L59.99,380.14 L60.30,380.13 L60.61,380.11 L60.92,380.10 L61.24,380.08 L61.55,380.07 L61.86,380.06 L62.17,380.04 L62.48,380.03 L62.79,380.01 L63.10,380.00 L63.41,379.98 L63.72,379.96 L64.03,379.95 L64.34,379.93 L64.65,379.92 L64.96,379.90 L65.27,379.88 L65.58,379.87 L65.89,379.85 L66.21,379.83 L66.52,379.82 L66.83,379.80 L67.14,379.78 L67.45,379.77 L67.76,379.75 L68.07,379.73 L68.38,379.71 L68.69,379.69 L69.00,379.67 L69.31,379.65 L69.62,379.63 L69.93,379.62 L70.24,379.60 L70.55,379.58 L70.86,379.55 L71.18,379.53 L71.49,379.51 L71.80,379.49 L72.11,379.47 L72.42,379.45 L72.73,379.43 L73.04,379.40 L73.35,379.38 L73.66,379.36 L73.97,379.33 L74.28,379.31 L74.59,379.28 L74.90,379.26 L75.21,379.23 L75.52,379.21 L75.83,379.18 L76.15,379.15 L76.46,379.13 L76.77,379.10 L77.08,379.07 L77.39,379.04 L77.70,379.01 L78.01,378.98 L78.32,378.95 L78.63,378.92 L78.94,378.89 L79.25,378.85 L79.56,378.82 L79.87,378.79 L80.18,378.75 L80.49,378.72 L80.80,378.68 L81.12,378.65 L81.43,378.61 L81.74,378.57 L82.05,378.53 L82.36,378.49 L82.67,378.45 L82.98,378.41 L83.29,378.37 L83.60,378.33 L83.91,378.28 L84.22,378.24 L84.53,378.19 L84.84,378.14 L85.15,378.10 L85.46,378.05 L85.77,378.00 L86.09,377.95 L86.40,377.90 L86.71,377.84 L87.02,377.79 L87.33,377.74 L87.64,377.68 L87.95,377.62 L88.26,377.56 L88.57,377.51 L88.88,377.44 L89.19,377.38 L89.50,377.32 L89.81,377.25 L90.12,377.19 L90.43,377.12 L90.74,377.05 L91.06,376.98 L91.37,376.91 L91.68,376.84 L91.99,376.76 L92.30,376.68 L92.61,376.61 L92.92,376.53 L93.23,376.44 L93.54,376.36 L93.85,376.27 L94.16,376.18 L94.47,376.09 L94.78,376.00 L95.09,375.90 L95.40,375.80 L95.71,375.70 L96.00,375.60 L96.03,375.60 L96.20,375.54 L96.34,375.49 L96.40,375.47 L96.60,375.39 L96.65,375.38 L96.80,375.32 L96.96,375.26 L97.00,375.25 L97.20,375.17 L97.27,375.14 L97.40,375.09 L97.58,375.02 L97.60,375.01 L97.80,374.93 L97.89,374.89 L98.00,374.85 L98.20,374.76 L98.20,374.76 L98.40,374.67 L98.51,374.62 L98.60,374.58 L98.80,374.49 L98.82,374.48 L99.00,374.40 L99.13,374.34 L99.20,374.30 L99.40,374.20 L99.44,374.18 L99.60,374.10 L99.75,374.02 L99.80,374.00 L100.00,373.89 L100.06,373.86 L100.20,373.78 L100.37,373.68 L100.40,373.67 L100.60,373.55 L100.68,373.50 L100.80,373.43 L100.99,373.31 L101.00,373.31 L101.20,373.18 L101.31,373.11 L101.40,373.05 L101.60,372.92 L101.62,372.91 L101.80,372.78 L101.93,372.69 L102.00,372.64 L102.20,372.49 L102.24,372.46 L102.40,372.34 L102.55,372.23 L102.60,372.19 L102.80,372.03 L102.86,371.98 L103.00,371.86 L103.17,371.72 L103.20,371.69 L103.40,371.51 L103.48,371.44 L103.60,371.33 L103.79,371.16 L103.80,371.15 L104.00,370.95 L104.10,370.85 L104.20,370.76 L104.40,370.55 L104.41,370.54 L104.60,370.34 L104.72,370.21 L104.80,370.12 L105.00,369.90 L105.03,369.86 L105.20,369.66 L105.34,369.49 L105.40,369.43 L105.60,369.18 L105.65,369.11 L105.80,368.92 L105.96,368.71 L106.00,368.66 L106.20,368.39 L106.28,368.29 L106.40,368.11 L106.59,367.85 L106.60,367.83 L106.80,367.53 L106.90,367.39 L107.00,367.23 L107.20,366.92 L107.21,366.91 L107.40,366.60 L107.52,366.40 L107.60,366.26 L107.80,365.92 L107.83,365.87 L108.00,365.57 L108.14,365.32 L108.20,365.21 L108.40,364.84 L108.45,364.75 L108.60,364.46 L108.76,364.15 L108.80,364.07 L109.00,363.67 L109.07,363.53 L109.20,363.26 L109.38,362.88 L109.40,362.84 L109.60,362.41 L109.69,362.21 L109.80,361.97 L110.00,361.51 L110.00,361.51 L110.20,361.05 L110.31,360.78 L110.40,360.57 L110.60,360.09 L110.62,360.03 L110.80,359.59 L110.93,359.25 L111.00,359.09 L111.20,358.57 L111.25,358.45 L111.40,358.04 L111.56,357.62 L111.60,357.50 L111.80,356.95 L111.87,356.76 L112.00,356.39 L112.18,355.89 L112.20,355.82 L112.40,355.24 L112.49,354.98 L112.60,354.65 L112.80,354.05 L112.80,354.05 L113.00,353.44 L113.11,353.10 L113.20,352.82 L113.40,352.19 L113.42,352.13 L113.60,351.56 L113.73,351.14 L113.80,350.91 L114.00,350.26 L114.04,350.12 L114.20,349.60 L114.35,349.09 L114.40,348.93 L114.60,348.25 L114.66,348.04 L114.80,347.57 L114.97,346.98 L115.00,346.88 L115.20,346.19 L115.28,345.90 L115.40,345.49 L115.59,344.81 L115.60,344.79 L115.80,344.08 L115.90,343.71 L116.00,343.37 L116.20,342.66 L116.22,342.60 L116.40,341.94 L116.53,341.49 L116.60,341.23 L116.80,340.51 L116.84,340.38 L117.00,339.79 L117.15,339.26 L117.20,339.07 L117.40,338.35 L117.46,338.15 L117.60,337.64 L117.77,337.04 L117.80,336.93 L118.00,336.22 L118.08,335.94 L118.20,335.51 L118.39,334.85 L118.40,334.81 L118.60,334.11 L118.70,333.77 L118.80,333.42 L119.00,332.74 L119.01,332.71 L119.20,332.07 L119.32,331.66 L119.40,331.40 L119.60,330.75 L119.63,330.64 L119.80,330.10 L119.94,329.64 L120.00,329.46 L120.20,328.84 L120.25,328.68 L120.40,328.23 L120.56,327.74 L120.60,327.63 L120.80,327.05 L120.87,326.83 L121.00,326.48 L121.19,325.97 L121.20,325.93 L121.40,325.39 L121.50,325.14 L121.60,324.87 L121.80,324.37 L121.81,324.35 L122.00,323.88 L122.12,323.61 L122.20,323.42 L122.40,322.97 L122.43,322.91 L122.60,322.55 L122.74,322.27 L122.80,322.14 L123.00,321.76 L123.05,321.67 L123.20,321.40 L123.36,321.13 L123.40,321.06 L123.60,320.75 L123.67,320.64 L123.80,320.46 L123.98,320.22 L124.00,320.19 L124.20,319.95 L124.29,319.84 L124.40,319.73 L124.60,319.54 L124.60,319.53 L124.80,319.37 L124.91,319.28 L125.00,319.22 L125.20,319.11 L125.22,319.10 L125.40,319.02 L125.53,318.97 L125.60,318.95 L125.80,318.91 L125.84,318.91 L126.00,318.90 L126.16,318.91 L126.20,318.91 L126.40,318.95 L126.47,318.97 L126.60,319.02 L126.78,319.10 L126.80,319.11 L127.00,319.22 L127.09,319.28 L127.20,319.37 L127.40,319.53 L127.40,319.54 L127.60,319.73 L127.71,319.84 L127.80,319.95 L128.00,320.19 L128.02,320.22 L128.20,320.46 L128.33,320.64 L128.40,320.75 L128.60,321.06 L128.64,321.13 L128.80,321.40 L128.95,321.67 L129.00,321.76 L129.20,322.14 L129.26,322.27 L129.40,322.55 L129.57,322.91 L129.60,322.97 L129.80,323.42 L129.88,323.61 L130.00,323.88 L130.19,324.35 L130.20,324.37 L130.40,324.87 L130.50,325.14 L130.60,325.39 L130.80,325.93 L130.81,325.97 L131.00,326.48 L131.13,326.83 L131.20,327.05 L131.40,327.63 L131.44,327.74 L131.60,328.23 L131.75,328.68 L131.80,328.84 L132.00,329.46 L132.06,329.64 L132.20,330.10 L132.37,330.64 L132.40,330.75 L132.60,331.40 L132.68,331.66 L132.80,332.07 L132.99,332.71 L133.00,332.74 L133.20,333.42 L133.30,333.77 L133.40,334.11 L133.60,334.81 L133.61,334.85 L133.80,335.51 L133.92,335.94 L134.00,336.22 L134.20,336.93 L134.23,337.04 L134.40,337.64 L134.54,338.15 L134.60,338.35 L134.80,339.07 L134.85,339.26 L135.00,339.79 L135.16,340.38 L135.20,340.51 L135.40,341.23 L135.47,341.49 L135.60,341.94 L135.78,342.60 L135.80,342.66 L136.00,343.37 L136.10,343.71 L136.20,344.08 L136.40,344.79 L136.41,344.81 L136.60,345.49 L136.72,345.90 L136.80,346.19 L137.00,346.88 L137.03,346.98 L137.20,347.57 L137.34,348.04 L137.40,348.25 L137.60,348.93 L137.65,349.09 L137.80,349.60 L137.96,350.12 L138.00,350.26 L138.20,350.91 L138.27,351.14 L138.40,351.56 L138.58,352.13 L138.60,352.19 L138.80,352.82 L138.89,353.10 L139.00,353.44 L139.20,354.05 L139.20,354.05 L139.40,354.65 L139.51,354.98 L139.60,355.24 L139.80,355.82 L139.82,355.89 L140.00,356.39 L140.13,356.76 L140.20,356.95 L140.40,357.50 L140.44,357.62 L140.60,358.04 L140.75,358.45 L140.80,358.57 L141.00,359.09 L141.07,359.25 L141.20,359.59 L141.38,360.03 L141.40,360.09 L141.60,360.57 L141.69,360.78 L141.80,361.05 L142.00,361.51 L142.00,361.51 L142.20,361.97 L142.31,362.21 L142.40,362.41 L142.60,362.84 L142.62,362.88 L142.80,363.26 L142.93,363.53 L143.00,363.67 L143.20,364.07 L143.24,364.15 L143.40,364.46 L143.55,364.75 L143.60,364.84 L143.80,365.21 L143.86,365.32 L144.00,365.57 L144.17,365.87 L144.20,365.92 L144.40,366.26 L144.48,366.40 L144.60,366.60 L144.79,366.91 L144.80,366.92 L145.00,367.23 L145.10,367.39 L145.20,367.53 L145.40,367.83 L145.41,367.85 L145.60,368.11 L145.72,368.29 L145.80,368.39 L146.00,368.66 L146.04,368.71 L146.20,368.92 L146.35,369.11 L146.40,369.18 L146.60,369.43 L146.66,369.49 L146.80,369.66 L146.97,369.86 L147.00,369.90 L147.20,370.12 L147.28,370.21 L147.40,370.34 L147.59,370.54 L147.60,370.55 L147.80,370.76 L147.90,370.85 L148.00,370.95 L148.20,371.15 L148.21,371.16 L148.40,371.33 L148.52,371.44 L148.60,371.51 L148.80,371.69 L148.83,371.72 L149.00,371.86 L149.14,371.98 L149.20,372.03 L149.40,372.19 L149.45,372.23 L149.60,372.34 L149.76,372.46 L149.80,372.49 L150.00,372.64 L150.07,372.69 L150.20,372.78 L150.38,372.91 L150.40,372.92 L150.60,373.05 L150.69,373.11 L150.80,373.18 L151.00,373.31 L151.01,373.31 L151.20,373.43 L151.32,373.50 L151.40,373.55 L151.60,373.67 L151.63,373.68 L151.80,373.78 L151.94,373.86 L152.00,373.89 L152.20,374.00 L152.25,374.02 L152.40,374.10 L152.56,374.18 L152.60,374.20 L152.80,374.30 L152.87,374.34 L153.00,374.40 L153.18,374.48 L153.20,374.49 L153.40,374.58 L153.49,374.62 L153.60,374.67 L153.80,374.76 L153.80,374.76 L154.00,374.85 L154.11,374.89 L154.20,374.93 L154.40,375.01 L154.42,375.02 L154.60,375.09 L154.73,375.14 L154.80,375.17 L155.00,375.25 L155.04,375.26 L155.20,375.32 L155.35,375.38 L155.40,375.39 L155.60,375.47 L155.66,375.49 L155.80,375.54 L155.97,375.60 L156.00,375.60 L156.29,375.70 L156.60,375.80 L156.91,375.90 L157.22,376.00 L157.53,376.09 L157.84,376.18 L158.15,376.27 L158.46,376.36 L158.77,376.44 L159.08,376.53 L159.39,376.61 L159.70,376.68 L160.01,376.76 L160.32,376.84 L160.63,376.91 L160.94,376.98 L161.26,377.05 L161.57,377.12 L161.88,377.19 L162.19,377.25 L162.50,377.32 L162.81,377.38 L163.12,377.44 L163.43,377.51 L163.74,377.56 L164.05,377.62 L164.36,377.68 L164.67,377.74 L164.98,377.79 L165.29,377.84 L165.60,377.90 L165.91,377.95 L166.23,378.00 L166.54,378.05 L166.85,378.10 L167.16,378.14 L167.47,378.19 L167.78,378.24 L168.09,378.28 L168.40,378.33 L168.71,378.37 L169.02,378.41 L169.33,378.45 L169.64,378.49 L169.95,378.53 L170.26,378.57 L170.57,378.61 L170.88,378.65 L171.20,378.68 L171.51,378.72 L171.82,378.75 L172.13,378.79 L172.44,378.82 L172.75,378.85 L173.06,378.89 L173.37,378.92 L173.68,378.95 L173.99,378.98 L174.30,379.01 L174.61,379.04 L174.92,379.07 L175.23,379.10 L175.54,379.13 L175.85,379.15 L176.17,379.18 L176.48,379.21 L176.79,379.23 L177.10,379.26 L177.41,379.28 L177.72,379.31 L178.03,379.33 L178.34,379.36 L178.65,379.38 L178.96,379.40 L179.27,379.43 L179.58,379.45 L179.89,379.47 L180.20,379.49 L180.51,379.51 L180.82,379.53 L181.14,379.55 L181.45,379.58 L181.76,379.60 L182.07,379.62 L182.38,379.63 L182.69,379.65 L183.00,379.67 L183.31,379.69 L183.62,379.71 L183.93,379.73 L184.24,379.75 L184.55,379.77 L184.86,379.78 L185.17,379.80 L185.48,379.82 L185.79,379.83 L186.11,379.85 L186.42,379.87 L186.73,379.88 L187.04,379.90 L187.35,379.92 L187.66,379.93 L187.97,379.95 L188.28,379.96 L188.59,379.98 L188.90,380.00 L189.21,380.01 L189.52,380.03 L189.83,380.04 L190.14,380.06 L190.45,380.07 L190.76,380.08 L191.08,380.10 L191.39,380.11 L191.70,380.13 L192.01,380.14 L192.32,380.15 L192.63,380.17 L192.94,380.18 L193.25,380.20 L193.56,380.21 L193.87,380.22 L194.18,380.24 L194.49,380.25 L194.80,380.26 L195.11,380.27 L195.42,380.29 L195.73,380.30 L196.05,380.31 L196.36,380.33 L196.67,380.34 L196.98,380.35 L197.29,380.36 L197.60,380.37 L197.91,380.39 L198.22,380.40 L198.53,380.41 L198.84,380.42 L199.15,380.43 L199.46,380.44 L199.77,380.46 L200.08,380.47 L200.39,380.48 L200.70,380.49 L201.02,380.50 L201.33,380.51 L201.64,380.52 L201.95,380.53 L202.26,380.54 L202.57,380.56 L202.88,380.57 L203.19,380.58 L203.50,380.59" fill="none" stroke="#3473b3" stroke-width="2.2" stroke-linejoin="round"/>
<line x1="48.05" y1="226.50" x2="203.95" y2="226.50" stroke="#262626" stroke-width="0.9"/>
<line x1="48.05" y1="381.50" x2="203.95" y2="381.50" stroke="#262626" stroke-width="0.9"/>
<line x1="48.50" y1="226.50" x2="48.50" y2="381.50" stroke="#262626" stroke-width="0.9"/>
<line x1="203.50" y1="226.50" x2="203.50" y2="381.50" stroke="#262626" stroke-width="0.9"/>
<line x1="48.50" y1="381.50" x2="48.50" y2="387.50" stroke="#262626" stroke-width="0.95"/>
<line x1="126.00" y1="381.50" x2="126.00" y2="387.50" stroke="#262626" stroke-width="0.95"/>
<line x1="203.50" y1="381.50" x2="203.50" y2="387.50" stroke="#262626" stroke-width="0.95"/>
<line x1="64.00" y1="381.50" x2="64.00" y2="384.50" stroke="#262626" stroke-width="0.95"/>
<line x1="79.50" y1="381.50" x2="79.50" y2="384.50" stroke="#262626" stroke-width="0.95"/>
<line x1="95.00" y1="381.50" x2="95.00" y2="384.50" stroke="#262626" stroke-width="0.95"/>
<line x1="110.50" y1="381.50" x2="110.50" y2="384.50" stroke="#262626" stroke-width="0.95"/>
<line x1="141.50" y1="381.50" x2="141.50" y2="384.50" stroke="#262626" stroke-width="0.95"/>
<line x1="157.00" y1="381.50" x2="157.00" y2="384.50" stroke="#262626" stroke-width="0.95"/>
<line x1="172.50" y1="381.50" x2="172.50" y2="384.50" stroke="#262626" stroke-width="0.95"/>
<line x1="188.00" y1="381.50" x2="188.00" y2="384.50" stroke="#262626" stroke-width="0.95"/>
<line x1="42.50" y1="381.50" x2="48.50" y2="381.50" stroke="#262626" stroke-width="0.95"/>
<line x1="42.50" y1="355.67" x2="48.50" y2="355.67" stroke="#262626" stroke-width="0.95"/>
<line x1="42.50" y1="329.83" x2="48.50" y2="329.83" stroke="#262626" stroke-width="0.95"/>
<line x1="42.50" y1="304.00" x2="48.50" y2="304.00" stroke="#262626" stroke-width="0.95"/>
<line x1="42.50" y1="278.17" x2="48.50" y2="278.17" stroke="#262626" stroke-width="0.95"/>
<line x1="42.50" y1="252.33" x2="48.50" y2="252.33" stroke="#262626" stroke-width="0.95"/>
<line x1="42.50" y1="226.50" x2="48.50" y2="226.50" stroke="#262626" stroke-width="0.95"/>
<line x1="45.50" y1="375.04" x2="48.50" y2="375.04" stroke="#262626" stroke-width="0.95"/>
<line x1="45.50" y1="368.58" x2="48.50" y2="368.58" stroke="#262626" stroke-width="0.95"/>
<line x1="45.50" y1="362.12" x2="48.50" y2="362.12" stroke="#262626" stroke-width="0.95"/>
<line x1="45.50" y1="349.21" x2="48.50" y2="349.21" stroke="#262626" stroke-width="0.95"/>
<line x1="45.50" y1="342.75" x2="48.50" y2="342.75" stroke="#262626" stroke-width="0.95"/>
<line x1="45.50" y1="336.29" x2="48.50" y2="336.29" stroke="#262626" stroke-width="0.95"/>
<line x1="45.50" y1="323.38" x2="48.50" y2="323.38" stroke="#262626" stroke-width="0.95"/>
<line x1="45.50" y1="316.92" x2="48.50" y2="316.92" stroke="#262626" stroke-width="0.95"/>
<line x1="45.50" y1="310.46" x2="48.50" y2="310.46" stroke="#262626" stroke-width="0.95"/>
<line x1="45.50" y1="297.54" x2="48.50" y2="297.54" stroke="#262626" stroke-width="0.95"/>
<line x1="45.50" y1="291.08" x2="48.50" y2="291.08" stroke="#262626" stroke-width="0.95"/>
<line x1="45.50" y1="284.62" x2="48.50" y2="284.62" stroke="#262626" stroke-width="0.95"/>
<line x1="45.50" y1="271.71" x2="48.50" y2="271.71" stroke="#262626" stroke-width="0.95"/>
<line x1="45.50" y1="265.25" x2="48.50" y2="265.25" stroke="#262626" stroke-width="0.95"/>
<line x1="45.50" y1="258.79" x2="48.50" y2="258.79" stroke="#262626" stroke-width="0.95"/>
<line x1="45.50" y1="245.88" x2="48.50" y2="245.88" stroke="#262626" stroke-width="0.95"/>
<line x1="45.50" y1="239.42" x2="48.50" y2="239.42" stroke="#262626" stroke-width="0.95"/>
<line x1="45.50" y1="232.96" x2="48.50" y2="232.96" stroke="#262626" stroke-width="0.95"/>
<text x="49.00" y="399.60" font-size="12.3" letter-spacing="0.45" text-anchor="middle" fill="#000" >&#8722;0.05</text>
<text x="126.50" y="399.60" font-size="12.3" letter-spacing="0.45" text-anchor="middle" fill="#000" >0</text>
<text x="204.00" y="399.60" font-size="12.3" letter-spacing="0.45" text-anchor="middle" fill="#000" >0.05</text>
<text x="40.05" y="386.40" font-size="12.3" letter-spacing="0.45" text-anchor="end" fill="#000" >0</text>
<text x="40.05" y="360.07" font-size="12.3" letter-spacing="0.45" text-anchor="end" fill="#000" >20</text>
<text x="40.05" y="334.23" font-size="12.3" letter-spacing="0.45" text-anchor="end" fill="#000" >40</text>
<text x="40.05" y="308.40" font-size="12.3" letter-spacing="0.45" text-anchor="end" fill="#000" >60</text>
<text x="40.05" y="282.57" font-size="12.3" letter-spacing="0.45" text-anchor="end" fill="#000" >80</text>
<text x="40.05" y="256.73" font-size="12.3" letter-spacing="0.45" text-anchor="end" fill="#000" >100</text>
<text x="40.05" y="230.90" font-size="12.3" letter-spacing="0.45" text-anchor="end" fill="#000" >120</text>
<text x="48.70" y="238.50" font-size="12.3" letter-spacing="0.1" text-anchor="start" fill="#000" >(d)</text>
<line x1="260.00" y1="355.67" x2="415.50" y2="355.67" stroke="#dddddd" stroke-width="1"/>
<line x1="260.00" y1="329.83" x2="415.50" y2="329.83" stroke="#dddddd" stroke-width="1"/>
<line x1="260.00" y1="304.00" x2="415.50" y2="304.00" stroke="#dddddd" stroke-width="1"/>
<line x1="260.00" y1="278.17" x2="415.50" y2="278.17" stroke="#dddddd" stroke-width="1"/>
<line x1="260.00" y1="252.33" x2="415.50" y2="252.33" stroke="#dddddd" stroke-width="1"/>
<line x1="337.75" y1="226.50" x2="337.75" y2="381.50" stroke="#dddddd" stroke-width="1"/>
<path d="M260.00,380.49 L260.31,380.48 L260.62,380.47 L260.93,380.46 L261.25,380.45 L261.56,380.45 L261.87,380.44 L262.18,380.43 L262.49,380.42 L262.80,380.41 L263.12,380.40 L263.43,380.39 L263.74,380.39 L264.05,380.38 L264.36,380.37 L264.67,380.36 L264.99,380.35 L265.30,380.34 L265.61,380.33 L265.92,380.32 L266.23,380.31 L266.54,380.30 L266.86,380.30 L267.17,380.29 L267.48,380.28 L267.79,380.27 L268.10,380.26 L268.41,380.25 L268.73,380.24 L269.04,380.23 L269.35,380.22 L269.66,380.21 L269.97,380.20 L270.28,380.19 L270.60,380.18 L270.91,380.17 L271.22,380.16 L271.53,380.15 L271.84,380.13 L272.15,380.12 L272.46,380.11 L272.78,380.10 L273.09,380.09 L273.40,380.08 L273.71,380.07 L274.02,380.05 L274.33,380.04 L274.65,380.03 L274.96,380.02 L275.27,380.00 L275.58,379.99 L275.89,379.98 L276.20,379.97 L276.52,379.95 L276.83,379.94 L277.14,379.92 L277.45,379.91 L277.76,379.89 L278.07,379.88 L278.39,379.86 L278.70,379.85 L279.01,379.83 L279.32,379.81 L279.63,379.80 L279.94,379.78 L280.26,379.76 L280.57,379.74 L280.88,379.72 L281.19,379.70 L281.50,379.68 L281.81,379.66 L282.13,379.64 L282.44,379.62 L282.75,379.59 L283.06,379.57 L283.37,379.55 L283.68,379.52 L283.99,379.49 L284.31,379.47 L284.62,379.44 L284.93,379.41 L285.24,379.38 L285.55,379.35 L285.86,379.32 L286.18,379.29 L286.49,379.25 L286.80,379.22 L287.11,379.18 L287.42,379.14 L287.73,379.11 L288.05,379.07 L288.36,379.02 L288.67,378.98 L288.98,378.94 L289.29,378.89 L289.60,378.84 L289.92,378.79 L290.23,378.74 L290.54,378.69 L290.85,378.63 L291.16,378.58 L291.47,378.52 L291.79,378.46 L292.10,378.39 L292.41,378.33 L292.72,378.26 L293.03,378.19 L293.34,378.12 L293.66,378.04 L293.97,377.97 L294.28,377.89 L294.59,377.80 L294.90,377.72 L295.21,377.63 L295.53,377.54 L295.84,377.45 L296.15,377.35 L296.46,377.25 L296.77,377.14 L297.08,377.04 L297.39,376.93 L297.71,376.81 L298.02,376.69 L298.33,376.57 L298.64,376.45 L298.95,376.32 L299.26,376.19 L299.58,376.05 L299.89,375.91 L300.20,375.76 L300.51,375.62 L300.82,375.46 L301.13,375.30 L301.45,375.14 L301.76,374.98 L302.07,374.81 L302.38,374.63 L302.69,374.45 L303.00,374.26 L303.32,374.07 L303.63,373.88 L303.94,373.68 L304.25,373.48 L304.56,373.27 L304.87,373.05 L305.19,372.83 L305.50,372.61 L305.81,372.38 L306.12,372.14 L306.43,371.90 L306.74,371.66 L307.06,371.41 L307.37,371.15 L307.68,370.89 L307.75,370.83 L307.95,370.66 L307.99,370.62 L308.15,370.48 L308.30,370.35 L308.35,370.31 L308.55,370.13 L308.61,370.07 L308.75,369.95 L308.92,369.79 L308.95,369.77 L309.15,369.58 L309.24,369.50 L309.35,369.40 L309.55,369.21 L309.55,369.21 L309.75,369.02 L309.86,368.91 L309.95,368.83 L310.15,368.63 L310.17,368.61 L310.35,368.43 L310.48,368.30 L310.55,368.24 L310.75,368.03 L310.79,367.99 L310.95,367.83 L311.11,367.67 L311.15,367.63 L311.35,367.42 L311.42,367.35 L311.55,367.21 L311.73,367.02 L311.75,367.00 L311.95,366.79 L312.04,366.69 L312.15,366.57 L312.35,366.35 L312.35,366.35 L312.55,366.13 L312.66,366.01 L312.75,365.91 L312.95,365.69 L312.98,365.66 L313.15,365.47 L313.29,365.31 L313.35,365.24 L313.55,365.01 L313.60,364.96 L313.75,364.78 L313.91,364.60 L313.95,364.55 L314.15,364.32 L314.22,364.23 L314.35,364.08 L314.53,363.87 L314.55,363.85 L314.75,363.61 L314.85,363.50 L314.95,363.37 L315.15,363.13 L315.16,363.12 L315.35,362.89 L315.47,362.74 L315.55,362.65 L315.75,362.40 L315.78,362.36 L315.95,362.15 L316.09,361.98 L316.15,361.91 L316.35,361.66 L316.40,361.59 L316.55,361.41 L316.72,361.20 L316.75,361.16 L316.95,360.90 L317.03,360.81 L317.15,360.65 L317.34,360.41 L317.35,360.40 L317.55,360.14 L317.65,360.01 L317.75,359.89 L317.95,359.63 L317.96,359.62 L318.15,359.37 L318.27,359.21 L318.35,359.12 L318.55,358.86 L318.59,358.81 L318.75,358.60 L318.90,358.41 L318.95,358.34 L319.15,358.08 L319.21,358.00 L319.35,357.82 L319.52,357.60 L319.55,357.56 L319.75,357.30 L319.83,357.19 L319.95,357.03 L320.14,356.78 L320.15,356.77 L320.35,356.51 L320.45,356.37 L320.55,356.25 L320.75,355.99 L320.77,355.97 L320.95,355.73 L321.08,355.56 L321.15,355.47 L321.35,355.21 L321.39,355.15 L321.55,354.95 L321.70,354.75 L321.75,354.69 L321.95,354.43 L322.01,354.35 L322.15,354.17 L322.32,353.94 L322.35,353.91 L322.55,353.65 L322.64,353.54 L322.75,353.40 L322.95,353.14 L322.95,353.14 L323.15,352.89 L323.26,352.75 L323.35,352.63 L323.55,352.38 L323.57,352.35 L323.75,352.13 L323.88,351.96 L323.95,351.88 L324.15,351.63 L324.19,351.58 L324.35,351.38 L324.51,351.19 L324.55,351.14 L324.75,350.89 L324.82,350.81 L324.95,350.65 L325.13,350.44 L325.15,350.41 L325.35,350.17 L325.44,350.06 L325.55,349.94 L325.75,349.70 L325.75,349.70 L325.95,349.47 L326.06,349.34 L326.15,349.24 L326.35,349.01 L326.38,348.98 L326.55,348.78 L326.69,348.63 L326.75,348.56 L326.95,348.34 L327.00,348.28 L327.15,348.12 L327.31,347.94 L327.35,347.90 L327.55,347.69 L327.62,347.61 L327.75,347.48 L327.93,347.28 L327.95,347.27 L328.15,347.06 L328.25,346.97 L328.35,346.86 L328.55,346.66 L328.56,346.65 L328.75,346.46 L328.87,346.35 L328.95,346.27 L329.15,346.08 L329.18,346.05 L329.35,345.89 L329.49,345.76 L329.55,345.71 L329.75,345.53 L329.80,345.48 L329.95,345.36 L330.12,345.21 L330.15,345.18 L330.35,345.01 L330.43,344.95 L330.55,344.85 L330.74,344.70 L330.75,344.69 L330.95,344.53 L331.05,344.45 L331.15,344.38 L331.35,344.23 L331.36,344.22 L331.55,344.08 L331.67,343.99 L331.75,343.94 L331.95,343.80 L331.98,343.78 L332.15,343.67 L332.30,343.57 L332.35,343.54 L332.55,343.41 L332.61,343.38 L332.75,343.29 L332.92,343.19 L332.95,343.18 L333.15,343.06 L333.23,343.02 L333.35,342.96 L333.54,342.86 L333.55,342.85 L333.75,342.75 L333.85,342.70 L333.95,342.66 L334.15,342.57 L334.17,342.56 L334.35,342.49 L334.48,342.43 L334.55,342.41 L334.75,342.33 L334.79,342.32 L334.95,342.26 L335.10,342.21 L335.15,342.19 L335.35,342.13 L335.41,342.12 L335.55,342.08 L335.72,342.03 L335.75,342.03 L335.95,341.98 L336.04,341.96 L336.15,341.94 L336.35,341.90 L336.35,341.90 L336.55,341.87 L336.66,341.85 L336.75,341.84 L336.95,341.82 L336.97,341.82 L337.15,341.80 L337.28,341.79 L337.35,341.79 L337.55,341.78 L337.59,341.78 L337.75,341.78 L337.91,341.78 L337.95,341.78 L338.15,341.79 L338.22,341.79 L338.35,341.80 L338.53,341.82 L338.55,341.82 L338.75,341.84 L338.84,341.85 L338.95,341.87 L339.15,341.90 L339.15,341.90 L339.35,341.94 L339.46,341.96 L339.55,341.98 L339.75,342.03 L339.78,342.03 L339.95,342.08 L340.09,342.12 L340.15,342.13 L340.35,342.19 L340.40,342.21 L340.55,342.26 L340.71,342.32 L340.75,342.33 L340.95,342.41 L341.02,342.43 L341.15,342.49 L341.33,342.56 L341.35,342.57 L341.55,342.66 L341.65,342.70 L341.75,342.75 L341.95,342.85 L341.96,342.86 L342.15,342.96 L342.27,343.02 L342.35,343.06 L342.55,343.18 L342.58,343.19 L342.75,343.29 L342.89,343.38 L342.95,343.41 L343.15,343.54 L343.20,343.57 L343.35,343.67 L343.52,343.78 L343.55,343.80 L343.75,343.94 L343.83,343.99 L343.95,344.08 L344.14,344.22 L344.15,344.23 L344.35,344.38 L344.45,344.45 L344.55,344.53 L344.75,344.69 L344.76,344.70 L344.95,344.85 L345.07,344.95 L345.15,345.01 L345.35,345.18 L345.38,345.21 L345.55,345.36 L345.70,345.48 L345.75,345.53 L345.95,345.71 L346.01,345.76 L346.15,345.89 L346.32,346.05 L346.35,346.08 L346.55,346.27 L346.63,346.35 L346.75,346.46 L346.94,346.65 L346.95,346.66 L347.15,346.86 L347.25,346.97 L347.35,347.06 L347.55,347.27 L347.57,347.28 L347.75,347.48 L347.88,347.61 L347.95,347.69 L348.15,347.90 L348.19,347.94 L348.35,348.12 L348.50,348.28 L348.55,348.34 L348.75,348.56 L348.81,348.63 L348.95,348.78 L349.12,348.98 L349.15,349.01 L349.35,349.24 L349.44,349.34 L349.55,349.47 L349.75,349.70 L349.75,349.70 L349.95,349.94 L350.06,350.06 L350.15,350.17 L350.35,350.41 L350.37,350.44 L350.55,350.65 L350.68,350.81 L350.75,350.89 L350.95,351.14 L350.99,351.19 L351.15,351.38 L351.31,351.58 L351.35,351.63 L351.55,351.88 L351.62,351.96 L351.75,352.13 L351.93,352.35 L351.95,352.38 L352.15,352.63 L352.24,352.75 L352.35,352.89 L352.55,353.14 L352.55,353.14 L352.75,353.40 L352.86,353.54 L352.95,353.65 L353.15,353.91 L353.18,353.94 L353.35,354.17 L353.49,354.35 L353.55,354.43 L353.75,354.69 L353.80,354.75 L353.95,354.95 L354.11,355.15 L354.15,355.21 L354.35,355.47 L354.42,355.56 L354.55,355.73 L354.73,355.97 L354.75,355.99 L354.95,356.25 L355.05,356.37 L355.15,356.51 L355.35,356.77 L355.36,356.78 L355.55,357.03 L355.67,357.19 L355.75,357.30 L355.95,357.56 L355.98,357.60 L356.15,357.82 L356.29,358.00 L356.35,358.08 L356.55,358.34 L356.60,358.41 L356.75,358.60 L356.91,358.81 L356.95,358.86 L357.15,359.12 L357.23,359.21 L357.35,359.37 L357.54,359.62 L357.55,359.63 L357.75,359.89 L357.85,360.01 L357.95,360.14 L358.15,360.40 L358.16,360.41 L358.35,360.65 L358.47,360.81 L358.55,360.90 L358.75,361.16 L358.78,361.20 L358.95,361.41 L359.10,361.59 L359.15,361.66 L359.35,361.91 L359.41,361.98 L359.55,362.15 L359.72,362.36 L359.75,362.40 L359.95,362.65 L360.03,362.74 L360.15,362.89 L360.34,363.12 L360.35,363.13 L360.55,363.37 L360.65,363.50 L360.75,363.61 L360.95,363.85 L360.97,363.87 L361.15,364.08 L361.28,364.23 L361.35,364.32 L361.55,364.55 L361.59,364.60 L361.75,364.78 L361.90,364.96 L361.95,365.01 L362.15,365.24 L362.21,365.31 L362.35,365.47 L362.52,365.66 L362.55,365.69 L362.75,365.91 L362.84,366.01 L362.95,366.13 L363.15,366.35 L363.15,366.35 L363.35,366.57 L363.46,366.69 L363.55,366.79 L363.75,367.00 L363.77,367.02 L363.95,367.21 L364.08,367.35 L364.15,367.42 L364.35,367.63 L364.39,367.67 L364.55,367.83 L364.71,367.99 L364.75,368.03 L364.95,368.24 L365.02,368.30 L365.15,368.43 L365.33,368.61 L365.35,368.63 L365.55,368.83 L365.64,368.91 L365.75,369.02 L365.95,369.21 L365.95,369.21 L366.15,369.40 L366.26,369.50 L366.35,369.58 L366.55,369.77 L366.58,369.79 L366.75,369.95 L366.89,370.07 L366.95,370.13 L367.15,370.31 L367.20,370.35 L367.35,370.48 L367.51,370.62 L367.55,370.66 L367.75,370.83 L367.82,370.89 L368.13,371.15 L368.44,371.41 L368.76,371.66 L369.07,371.90 L369.38,372.14 L369.69,372.38 L370.00,372.61 L370.31,372.83 L370.63,373.05 L370.94,373.27 L371.25,373.48 L371.56,373.68 L371.87,373.88 L372.18,374.07 L372.50,374.26 L372.81,374.45 L373.12,374.63 L373.43,374.81 L373.74,374.98 L374.05,375.14 L374.37,375.30 L374.68,375.46 L374.99,375.62 L375.30,375.76 L375.61,375.91 L375.92,376.05 L376.24,376.19 L376.55,376.32 L376.86,376.45 L377.17,376.57 L377.48,376.69 L377.79,376.81 L378.11,376.93 L378.42,377.04 L378.73,377.14 L379.04,377.25 L379.35,377.35 L379.66,377.45 L379.97,377.54 L380.29,377.63 L380.60,377.72 L380.91,377.80 L381.22,377.89 L381.53,377.97 L381.84,378.04 L382.16,378.12 L382.47,378.19 L382.78,378.26 L383.09,378.33 L383.40,378.39 L383.71,378.46 L384.03,378.52 L384.34,378.58 L384.65,378.63 L384.96,378.69 L385.27,378.74 L385.58,378.79 L385.90,378.84 L386.21,378.89 L386.52,378.94 L386.83,378.98 L387.14,379.02 L387.45,379.07 L387.77,379.11 L388.08,379.14 L388.39,379.18 L388.70,379.22 L389.01,379.25 L389.32,379.29 L389.64,379.32 L389.95,379.35 L390.26,379.38 L390.57,379.41 L390.88,379.44 L391.19,379.47 L391.51,379.49 L391.82,379.52 L392.13,379.55 L392.44,379.57 L392.75,379.59 L393.06,379.62 L393.37,379.64 L393.69,379.66 L394.00,379.68 L394.31,379.70 L394.62,379.72 L394.93,379.74 L395.24,379.76 L395.56,379.78 L395.87,379.80 L396.18,379.81 L396.49,379.83 L396.80,379.85 L397.11,379.86 L397.43,379.88 L397.74,379.89 L398.05,379.91 L398.36,379.92 L398.67,379.94 L398.98,379.95 L399.30,379.97 L399.61,379.98 L399.92,379.99 L400.23,380.00 L400.54,380.02 L400.85,380.03 L401.17,380.04 L401.48,380.05 L401.79,380.07 L402.10,380.08 L402.41,380.09 L402.72,380.10 L403.04,380.11 L403.35,380.12 L403.66,380.13 L403.97,380.15 L404.28,380.16 L404.59,380.17 L404.90,380.18 L405.22,380.19 L405.53,380.20 L405.84,380.21 L406.15,380.22 L406.46,380.23 L406.77,380.24 L407.09,380.25 L407.40,380.26 L407.71,380.27 L408.02,380.28 L408.33,380.29 L408.64,380.30 L408.96,380.30 L409.27,380.31 L409.58,380.32 L409.89,380.33 L410.20,380.34 L410.51,380.35 L410.83,380.36 L411.14,380.37 L411.45,380.38 L411.76,380.39 L412.07,380.39 L412.38,380.40 L412.70,380.41 L413.01,380.42 L413.32,380.43 L413.63,380.44 L413.94,380.45 L414.25,380.45 L414.57,380.46 L414.88,380.47 L415.19,380.48 L415.50,380.49" fill="none" stroke="#3473b3" stroke-width="2.2" stroke-linejoin="round"/>
<line x1="259.55" y1="226.50" x2="415.95" y2="226.50" stroke="#262626" stroke-width="0.9"/>
<line x1="259.55" y1="381.50" x2="415.95" y2="381.50" stroke="#262626" stroke-width="0.9"/>
<line x1="260.00" y1="226.50" x2="260.00" y2="381.50" stroke="#262626" stroke-width="1.25"/>
<line x1="415.50" y1="226.50" x2="415.50" y2="381.50" stroke="#262626" stroke-width="0.9"/>
<line x1="260.00" y1="381.50" x2="260.00" y2="387.50" stroke="#262626" stroke-width="0.95"/>
<line x1="337.75" y1="381.50" x2="337.75" y2="387.50" stroke="#262626" stroke-width="0.95"/>
<line x1="415.50" y1="381.50" x2="415.50" y2="387.50" stroke="#262626" stroke-width="0.95"/>
<line x1="275.55" y1="381.50" x2="275.55" y2="384.50" stroke="#262626" stroke-width="0.95"/>
<line x1="291.10" y1="381.50" x2="291.10" y2="384.50" stroke="#262626" stroke-width="0.95"/>
<line x1="306.65" y1="381.50" x2="306.65" y2="384.50" stroke="#262626" stroke-width="0.95"/>
<line x1="322.20" y1="381.50" x2="322.20" y2="384.50" stroke="#262626" stroke-width="0.95"/>
<line x1="353.30" y1="381.50" x2="353.30" y2="384.50" stroke="#262626" stroke-width="0.95"/>
<line x1="368.85" y1="381.50" x2="368.85" y2="384.50" stroke="#262626" stroke-width="0.95"/>
<line x1="384.40" y1="381.50" x2="384.40" y2="384.50" stroke="#262626" stroke-width="0.95"/>
<line x1="399.95" y1="381.50" x2="399.95" y2="384.50" stroke="#262626" stroke-width="0.95"/>
<line x1="254.00" y1="381.50" x2="260.00" y2="381.50" stroke="#262626" stroke-width="0.95"/>
<line x1="254.00" y1="355.67" x2="260.00" y2="355.67" stroke="#262626" stroke-width="0.95"/>
<line x1="254.00" y1="329.83" x2="260.00" y2="329.83" stroke="#262626" stroke-width="0.95"/>
<line x1="254.00" y1="304.00" x2="260.00" y2="304.00" stroke="#262626" stroke-width="0.95"/>
<line x1="254.00" y1="278.17" x2="260.00" y2="278.17" stroke="#262626" stroke-width="0.95"/>
<line x1="254.00" y1="252.33" x2="260.00" y2="252.33" stroke="#262626" stroke-width="0.95"/>
<line x1="254.00" y1="226.50" x2="260.00" y2="226.50" stroke="#262626" stroke-width="0.95"/>
<line x1="257.00" y1="375.04" x2="260.00" y2="375.04" stroke="#262626" stroke-width="0.95"/>
<line x1="257.00" y1="368.58" x2="260.00" y2="368.58" stroke="#262626" stroke-width="0.95"/>
<line x1="257.00" y1="362.12" x2="260.00" y2="362.12" stroke="#262626" stroke-width="0.95"/>
<line x1="257.00" y1="349.21" x2="260.00" y2="349.21" stroke="#262626" stroke-width="0.95"/>
<line x1="257.00" y1="342.75" x2="260.00" y2="342.75" stroke="#262626" stroke-width="0.95"/>
<line x1="257.00" y1="336.29" x2="260.00" y2="336.29" stroke="#262626" stroke-width="0.95"/>
<line x1="257.00" y1="323.38" x2="260.00" y2="323.38" stroke="#262626" stroke-width="0.95"/>
<line x1="257.00" y1="316.92" x2="260.00" y2="316.92" stroke="#262626" stroke-width="0.95"/>
<line x1="257.00" y1="310.46" x2="260.00" y2="310.46" stroke="#262626" stroke-width="0.95"/>
<line x1="257.00" y1="297.54" x2="260.00" y2="297.54" stroke="#262626" stroke-width="0.95"/>
<line x1="257.00" y1="291.08" x2="260.00" y2="291.08" stroke="#262626" stroke-width="0.95"/>
<line x1="257.00" y1="284.62" x2="260.00" y2="284.62" stroke="#262626" stroke-width="0.95"/>
<line x1="257.00" y1="271.71" x2="260.00" y2="271.71" stroke="#262626" stroke-width="0.95"/>
<line x1="257.00" y1="265.25" x2="260.00" y2="265.25" stroke="#262626" stroke-width="0.95"/>
<line x1="257.00" y1="258.79" x2="260.00" y2="258.79" stroke="#262626" stroke-width="0.95"/>
<line x1="257.00" y1="245.88" x2="260.00" y2="245.88" stroke="#262626" stroke-width="0.95"/>
<line x1="257.00" y1="239.42" x2="260.00" y2="239.42" stroke="#262626" stroke-width="0.95"/>
<line x1="257.00" y1="232.96" x2="260.00" y2="232.96" stroke="#262626" stroke-width="0.95"/>
<text x="260.50" y="399.60" font-size="12.3" letter-spacing="0.45" text-anchor="middle" fill="#000" >&#8722;0.05</text>
<text x="338.25" y="399.60" font-size="12.3" letter-spacing="0.45" text-anchor="middle" fill="#000" >0</text>
<text x="416.00" y="399.60" font-size="12.3" letter-spacing="0.45" text-anchor="middle" fill="#000" >0.05</text>
<text x="251.55" y="386.40" font-size="12.3" letter-spacing="0.45" text-anchor="end" fill="#000" >0</text>
<text x="251.55" y="360.07" font-size="12.3" letter-spacing="0.45" text-anchor="end" fill="#000" >20</text>
<text x="251.55" y="334.23" font-size="12.3" letter-spacing="0.45" text-anchor="end" fill="#000" >40</text>
<text x="251.55" y="308.40" font-size="12.3" letter-spacing="0.45" text-anchor="end" fill="#000" >60</text>
<text x="251.55" y="282.57" font-size="12.3" letter-spacing="0.45" text-anchor="end" fill="#000" >80</text>
<text x="251.55" y="256.73" font-size="12.3" letter-spacing="0.45" text-anchor="end" fill="#000" >100</text>
<text x="251.55" y="230.90" font-size="12.3" letter-spacing="0.45" text-anchor="end" fill="#000" >120</text>
<text x="260.20" y="238.50" font-size="12.3" letter-spacing="0.1" text-anchor="start" fill="#000" >(e)</text>
<line x1="471.50" y1="355.67" x2="627.00" y2="355.67" stroke="#dddddd" stroke-width="1"/>
<line x1="471.50" y1="329.83" x2="627.00" y2="329.83" stroke="#dddddd" stroke-width="1"/>
<line x1="471.50" y1="304.00" x2="627.00" y2="304.00" stroke="#dddddd" stroke-width="1"/>
<line x1="471.50" y1="278.17" x2="627.00" y2="278.17" stroke="#dddddd" stroke-width="1"/>
<line x1="471.50" y1="252.33" x2="627.00" y2="252.33" stroke="#dddddd" stroke-width="1"/>
<line x1="549.25" y1="226.50" x2="549.25" y2="381.50" stroke="#dddddd" stroke-width="1"/>
<path d="M471.50,380.91 L471.81,380.91 L472.12,380.90 L472.43,380.90 L472.75,380.89 L473.06,380.89 L473.37,380.89 L473.68,380.88 L473.99,380.88 L474.30,380.87 L474.62,380.87 L474.93,380.86 L475.24,380.86 L475.55,380.86 L475.86,380.85 L476.17,380.85 L476.49,380.84 L476.80,380.84 L477.11,380.83 L477.42,380.83 L477.73,380.82 L478.04,380.82 L478.36,380.82 L478.67,380.81 L478.98,380.81 L479.29,380.80 L479.60,380.80 L479.91,380.79 L480.23,380.79 L480.54,380.78 L480.85,380.78 L481.16,380.77 L481.47,380.77 L481.78,380.76 L482.10,380.76 L482.41,380.76 L482.72,380.75 L483.03,380.75 L483.34,380.74 L483.65,380.74 L483.96,380.73 L484.28,380.73 L484.59,380.72 L484.90,380.72 L485.21,380.71 L485.52,380.71 L485.83,380.70 L486.15,380.70 L486.46,380.69 L486.77,380.69 L487.08,380.68 L487.39,380.68 L487.70,380.67 L488.02,380.67 L488.33,380.66 L488.64,380.66 L488.95,380.65 L489.26,380.65 L489.57,380.64 L489.89,380.64 L490.20,380.63 L490.51,380.63 L490.82,380.62 L491.13,380.62 L491.44,380.61 L491.76,380.61 L492.07,380.60 L492.38,380.60 L492.69,380.59 L493.00,380.59 L493.31,380.58 L493.63,380.58 L493.94,380.57 L494.25,380.56 L494.56,380.56 L494.87,380.55 L495.18,380.55 L495.49,380.54 L495.81,380.53 L496.12,380.53 L496.43,380.52 L496.74,380.52 L497.05,380.51 L497.36,380.50 L497.68,380.50 L497.99,380.49 L498.30,380.48 L498.61,380.47 L498.92,380.47 L499.23,380.46 L499.55,380.45 L499.86,380.44 L500.17,380.44 L500.48,380.43 L500.79,380.42 L501.10,380.41 L501.42,380.40 L501.73,380.39 L502.04,380.39 L502.35,380.38 L502.66,380.37 L502.97,380.36 L503.29,380.35 L503.60,380.34 L503.91,380.32 L504.22,380.31 L504.53,380.30 L504.84,380.29 L505.16,380.28 L505.47,380.27 L505.78,380.25 L506.09,380.24 L506.40,380.22 L506.71,380.21 L507.03,380.20 L507.34,380.18 L507.65,380.16 L507.96,380.15 L508.27,380.13 L508.58,380.11 L508.89,380.10 L509.21,380.08 L509.52,380.06 L509.83,380.04 L510.14,380.02 L510.45,380.00 L510.76,379.97 L511.08,379.95 L511.39,379.93 L511.70,379.90 L512.01,379.88 L512.32,379.85 L512.63,379.82 L512.95,379.80 L513.26,379.77 L513.57,379.74 L513.88,379.71 L514.19,379.68 L514.50,379.64 L514.82,379.61 L515.13,379.58 L515.44,379.54 L515.75,379.50 L516.06,379.47 L516.37,379.43 L516.69,379.39 L517.00,379.35 L517.31,379.30 L517.62,379.26 L517.93,379.21 L518.24,379.17 L518.56,379.12 L518.87,379.07 L519.18,379.02 L519.25,379.01 L519.45,378.98 L519.49,378.97 L519.65,378.94 L519.80,378.92 L519.85,378.91 L520.05,378.87 L520.11,378.86 L520.25,378.84 L520.42,378.81 L520.45,378.80 L520.65,378.77 L520.74,378.75 L520.85,378.73 L521.05,378.69 L521.05,378.69 L521.25,378.65 L521.36,378.63 L521.45,378.62 L521.65,378.58 L521.67,378.57 L521.85,378.54 L521.98,378.51 L522.05,378.50 L522.25,378.45 L522.29,378.45 L522.45,378.41 L522.61,378.38 L522.65,378.37 L522.85,378.33 L522.92,378.31 L523.05,378.29 L523.23,378.25 L523.25,378.24 L523.45,378.20 L523.54,378.18 L523.65,378.15 L523.85,378.11 L523.85,378.11 L524.05,378.06 L524.16,378.03 L524.25,378.01 L524.45,377.97 L524.48,377.96 L524.65,377.92 L524.79,377.88 L524.85,377.87 L525.05,377.82 L525.10,377.81 L525.25,377.77 L525.41,377.73 L525.45,377.72 L525.65,377.67 L525.72,377.65 L525.85,377.62 L526.03,377.57 L526.05,377.57 L526.25,377.51 L526.35,377.49 L526.45,377.46 L526.65,377.41 L526.66,377.40 L526.85,377.35 L526.97,377.32 L527.05,377.30 L527.25,377.24 L527.28,377.23 L527.45,377.19 L527.59,377.14 L527.65,377.13 L527.85,377.07 L527.90,377.05 L528.05,377.01 L528.22,376.96 L528.25,376.95 L528.45,376.89 L528.53,376.87 L528.65,376.83 L528.84,376.77 L528.85,376.77 L529.05,376.70 L529.15,376.67 L529.25,376.64 L529.45,376.57 L529.46,376.57 L529.65,376.51 L529.77,376.46 L529.85,376.44 L530.05,376.37 L530.09,376.35 L530.25,376.29 L530.40,376.24 L530.45,376.22 L530.65,376.14 L530.71,376.12 L530.85,376.06 L531.02,375.99 L531.05,375.98 L531.25,375.89 L531.33,375.85 L531.45,375.80 L531.64,375.71 L531.65,375.70 L531.85,375.60 L531.95,375.55 L532.05,375.50 L532.25,375.39 L532.27,375.38 L532.45,375.27 L532.58,375.20 L532.65,375.15 L532.85,375.02 L532.89,374.99 L533.05,374.88 L533.20,374.77 L533.25,374.73 L533.45,374.57 L533.51,374.51 L533.65,374.39 L533.82,374.23 L533.85,374.21 L534.05,374.01 L534.14,373.92 L534.25,373.79 L534.45,373.56 L534.45,373.56 L534.65,373.31 L534.76,373.17 L534.85,373.04 L535.05,372.75 L535.07,372.71 L535.25,372.43 L535.38,372.20 L535.45,372.09 L535.65,371.71 L535.69,371.63 L535.85,371.31 L536.01,370.98 L536.05,370.88 L536.25,370.41 L536.32,370.24 L536.45,369.90 L536.63,369.41 L536.65,369.35 L536.85,368.76 L536.94,368.48 L537.05,368.13 L537.25,367.44 L537.25,367.44 L537.45,366.71 L537.56,366.27 L537.65,365.92 L537.85,365.07 L537.88,364.96 L538.05,364.17 L538.19,363.51 L538.25,363.20 L538.45,362.16 L538.50,361.90 L538.65,361.06 L538.81,360.13 L538.85,359.89 L539.05,358.64 L539.12,358.17 L539.25,357.32 L539.43,356.04 L539.45,355.92 L539.65,354.44 L539.75,353.71 L539.85,352.88 L540.05,351.24 L540.06,351.18 L540.25,349.51 L540.37,348.44 L540.45,347.69 L540.65,345.80 L540.68,345.50 L540.85,343.81 L540.99,342.35 L541.05,341.74 L541.25,339.59 L541.30,339.00 L541.45,337.35 L541.62,335.44 L541.65,335.03 L541.85,332.63 L541.93,331.69 L542.05,330.16 L542.24,327.76 L542.25,327.61 L542.45,324.99 L542.55,323.65 L542.65,322.30 L542.85,319.55 L542.86,319.39 L543.05,316.74 L543.17,314.98 L543.25,313.87 L543.45,310.96 L543.48,310.44 L543.65,308.00 L543.80,305.80 L543.85,304.99 L544.05,301.94 L544.11,301.05 L544.25,298.86 L544.42,296.21 L544.45,295.74 L544.65,292.58 L544.73,291.29 L544.85,289.40 L545.04,286.29 L545.05,286.17 L545.25,282.92 L545.35,281.20 L545.45,279.63 L545.65,276.32 L545.67,276.04 L545.85,272.97 L545.98,270.82 L546.05,269.60 L546.25,266.22 L546.29,265.55 L546.45,262.83 L546.60,260.27 L546.65,259.45 L546.85,256.11 L546.91,255.07 L547.05,252.82 L547.22,250.02 L547.25,249.62 L547.45,246.54 L547.54,245.26 L547.65,243.63 L547.85,240.94 L547.85,240.91 L548.05,238.45 L548.16,237.22 L548.25,236.27 L548.45,234.43 L548.47,234.26 L548.65,232.95 L548.78,232.19 L548.85,231.88 L549.05,231.22 L549.09,231.13 L549.25,231.00 L549.41,231.13 L549.45,231.22 L549.65,231.88 L549.72,232.19 L549.85,232.95 L550.03,234.26 L550.05,234.43 L550.25,236.27 L550.34,237.22 L550.45,238.45 L550.65,240.91 L550.65,240.94 L550.85,243.63 L550.96,245.26 L551.05,246.54 L551.25,249.62 L551.28,250.02 L551.45,252.82 L551.59,255.07 L551.65,256.11 L551.85,259.45 L551.90,260.27 L552.05,262.83 L552.21,265.55 L552.25,266.22 L552.45,269.60 L552.52,270.82 L552.65,272.97 L552.83,276.04 L552.85,276.32 L553.05,279.63 L553.15,281.20 L553.25,282.92 L553.45,286.17 L553.46,286.29 L553.65,289.40 L553.77,291.29 L553.85,292.58 L554.05,295.74 L554.08,296.21 L554.25,298.86 L554.39,301.05 L554.45,301.94 L554.65,304.99 L554.70,305.80 L554.85,308.00 L555.02,310.44 L555.05,310.96 L555.25,313.87 L555.33,314.98 L555.45,316.74 L555.64,319.39 L555.65,319.55 L555.85,322.30 L555.95,323.65 L556.05,324.99 L556.25,327.61 L556.26,327.76 L556.45,330.16 L556.57,331.69 L556.65,332.63 L556.85,335.03 L556.88,335.44 L557.05,337.35 L557.20,339.00 L557.25,339.59 L557.45,341.74 L557.51,342.35 L557.65,343.81 L557.82,345.50 L557.85,345.80 L558.05,347.69 L558.13,348.44 L558.25,349.51 L558.44,351.18 L558.45,351.24 L558.65,352.88 L558.75,353.71 L558.85,354.44 L559.05,355.92 L559.07,356.04 L559.25,357.32 L559.38,358.17 L559.45,358.64 L559.65,359.89 L559.69,360.13 L559.85,361.06 L560.00,361.90 L560.05,362.16 L560.25,363.20 L560.31,363.51 L560.45,364.17 L560.62,364.96 L560.65,365.07 L560.85,365.92 L560.94,366.27 L561.05,366.71 L561.25,367.44 L561.25,367.44 L561.45,368.13 L561.56,368.48 L561.65,368.76 L561.85,369.35 L561.87,369.41 L562.05,369.90 L562.18,370.24 L562.25,370.41 L562.45,370.88 L562.49,370.98 L562.65,371.31 L562.81,371.63 L562.85,371.71 L563.05,372.09 L563.12,372.20 L563.25,372.43 L563.43,372.71 L563.45,372.75 L563.65,373.04 L563.74,373.17 L563.85,373.31 L564.05,373.56 L564.05,373.56 L564.25,373.79 L564.36,373.92 L564.45,374.01 L564.65,374.21 L564.68,374.23 L564.85,374.39 L564.99,374.51 L565.05,374.57 L565.25,374.73 L565.30,374.77 L565.45,374.88 L565.61,374.99 L565.65,375.02 L565.85,375.15 L565.92,375.20 L566.05,375.27 L566.23,375.38 L566.25,375.39 L566.45,375.50 L566.55,375.55 L566.65,375.60 L566.85,375.70 L566.86,375.71 L567.05,375.80 L567.17,375.85 L567.25,375.89 L567.45,375.98 L567.48,375.99 L567.65,376.06 L567.79,376.12 L567.85,376.14 L568.05,376.22 L568.10,376.24 L568.25,376.29 L568.41,376.35 L568.45,376.37 L568.65,376.44 L568.73,376.46 L568.85,376.51 L569.04,376.57 L569.05,376.57 L569.25,376.64 L569.35,376.67 L569.45,376.70 L569.65,376.77 L569.66,376.77 L569.85,376.83 L569.97,376.87 L570.05,376.89 L570.25,376.95 L570.28,376.96 L570.45,377.01 L570.60,377.05 L570.65,377.07 L570.85,377.13 L570.91,377.14 L571.05,377.19 L571.22,377.23 L571.25,377.24 L571.45,377.30 L571.53,377.32 L571.65,377.35 L571.84,377.40 L571.85,377.41 L572.05,377.46 L572.15,377.49 L572.25,377.51 L572.45,377.57 L572.47,377.57 L572.65,377.62 L572.78,377.65 L572.85,377.67 L573.05,377.72 L573.09,377.73 L573.25,377.77 L573.40,377.81 L573.45,377.82 L573.65,377.87 L573.71,377.88 L573.85,377.92 L574.02,377.96 L574.05,377.97 L574.25,378.01 L574.34,378.03 L574.45,378.06 L574.65,378.11 L574.65,378.11 L574.85,378.15 L574.96,378.18 L575.05,378.20 L575.25,378.24 L575.27,378.25 L575.45,378.29 L575.58,378.31 L575.65,378.33 L575.85,378.37 L575.89,378.38 L576.05,378.41 L576.21,378.45 L576.25,378.45 L576.45,378.50 L576.52,378.51 L576.65,378.54 L576.83,378.57 L576.85,378.58 L577.05,378.62 L577.14,378.63 L577.25,378.65 L577.45,378.69 L577.45,378.69 L577.65,378.73 L577.76,378.75 L577.85,378.77 L578.05,378.80 L578.08,378.81 L578.25,378.84 L578.39,378.86 L578.45,378.87 L578.65,378.91 L578.70,378.92 L578.85,378.94 L579.01,378.97 L579.05,378.98 L579.25,379.01 L579.32,379.02 L579.63,379.07 L579.94,379.12 L580.26,379.17 L580.57,379.21 L580.88,379.26 L581.19,379.30 L581.50,379.35 L581.81,379.39 L582.13,379.43 L582.44,379.47 L582.75,379.50 L583.06,379.54 L583.37,379.58 L583.68,379.61 L584.00,379.64 L584.31,379.68 L584.62,379.71 L584.93,379.74 L585.24,379.77 L585.55,379.80 L585.87,379.82 L586.18,379.85 L586.49,379.88 L586.80,379.90 L587.11,379.93 L587.42,379.95 L587.74,379.97 L588.05,380.00 L588.36,380.02 L588.67,380.04 L588.98,380.06 L589.29,380.08 L589.61,380.10 L589.92,380.11 L590.23,380.13 L590.54,380.15 L590.85,380.16 L591.16,380.18 L591.47,380.20 L591.79,380.21 L592.10,380.22 L592.41,380.24 L592.72,380.25 L593.03,380.27 L593.34,380.28 L593.66,380.29 L593.97,380.30 L594.28,380.31 L594.59,380.32 L594.90,380.34 L595.21,380.35 L595.53,380.36 L595.84,380.37 L596.15,380.38 L596.46,380.39 L596.77,380.39 L597.08,380.40 L597.40,380.41 L597.71,380.42 L598.02,380.43 L598.33,380.44 L598.64,380.44 L598.95,380.45 L599.27,380.46 L599.58,380.47 L599.89,380.47 L600.20,380.48 L600.51,380.49 L600.82,380.50 L601.14,380.50 L601.45,380.51 L601.76,380.52 L602.07,380.52 L602.38,380.53 L602.69,380.53 L603.01,380.54 L603.32,380.55 L603.63,380.55 L603.94,380.56 L604.25,380.56 L604.56,380.57 L604.87,380.58 L605.19,380.58 L605.50,380.59 L605.81,380.59 L606.12,380.60 L606.43,380.60 L606.74,380.61 L607.06,380.61 L607.37,380.62 L607.68,380.62 L607.99,380.63 L608.30,380.63 L608.61,380.64 L608.93,380.64 L609.24,380.65 L609.55,380.65 L609.86,380.66 L610.17,380.66 L610.48,380.67 L610.80,380.67 L611.11,380.68 L611.42,380.68 L611.73,380.69 L612.04,380.69 L612.35,380.70 L612.67,380.70 L612.98,380.71 L613.29,380.71 L613.60,380.72 L613.91,380.72 L614.22,380.73 L614.54,380.73 L614.85,380.74 L615.16,380.74 L615.47,380.75 L615.78,380.75 L616.09,380.76 L616.40,380.76 L616.72,380.76 L617.03,380.77 L617.34,380.77 L617.65,380.78 L617.96,380.78 L618.27,380.79 L618.59,380.79 L618.90,380.80 L619.21,380.80 L619.52,380.81 L619.83,380.81 L620.14,380.82 L620.46,380.82 L620.77,380.82 L621.08,380.83 L621.39,380.83 L621.70,380.84 L622.01,380.84 L622.33,380.85 L622.64,380.85 L622.95,380.86 L623.26,380.86 L623.57,380.86 L623.88,380.87 L624.20,380.87 L624.51,380.88 L624.82,380.88 L625.13,380.89 L625.44,380.89 L625.75,380.89 L626.07,380.90 L626.38,380.90 L626.69,380.91 L627.00,380.91" fill="none" stroke="#3473b3" stroke-width="2.2" stroke-linejoin="round"/>
<line x1="471.05" y1="226.50" x2="627.45" y2="226.50" stroke="#262626" stroke-width="0.9"/>
<line x1="471.05" y1="381.50" x2="627.45" y2="381.50" stroke="#262626" stroke-width="0.9"/>
<line x1="471.50" y1="226.50" x2="471.50" y2="381.50" stroke="#262626" stroke-width="0.9"/>
<line x1="627.00" y1="226.50" x2="627.00" y2="381.50" stroke="#262626" stroke-width="1.25"/>
<line x1="471.50" y1="381.50" x2="471.50" y2="387.50" stroke="#262626" stroke-width="0.95"/>
<line x1="549.25" y1="381.50" x2="549.25" y2="387.50" stroke="#262626" stroke-width="0.95"/>
<line x1="627.00" y1="381.50" x2="627.00" y2="387.50" stroke="#262626" stroke-width="0.95"/>
<line x1="487.05" y1="381.50" x2="487.05" y2="384.50" stroke="#262626" stroke-width="0.95"/>
<line x1="502.60" y1="381.50" x2="502.60" y2="384.50" stroke="#262626" stroke-width="0.95"/>
<line x1="518.15" y1="381.50" x2="518.15" y2="384.50" stroke="#262626" stroke-width="0.95"/>
<line x1="533.70" y1="381.50" x2="533.70" y2="384.50" stroke="#262626" stroke-width="0.95"/>
<line x1="564.80" y1="381.50" x2="564.80" y2="384.50" stroke="#262626" stroke-width="0.95"/>
<line x1="580.35" y1="381.50" x2="580.35" y2="384.50" stroke="#262626" stroke-width="0.95"/>
<line x1="595.90" y1="381.50" x2="595.90" y2="384.50" stroke="#262626" stroke-width="0.95"/>
<line x1="611.45" y1="381.50" x2="611.45" y2="384.50" stroke="#262626" stroke-width="0.95"/>
<line x1="465.50" y1="381.50" x2="471.50" y2="381.50" stroke="#262626" stroke-width="0.95"/>
<line x1="465.50" y1="355.67" x2="471.50" y2="355.67" stroke="#262626" stroke-width="0.95"/>
<line x1="465.50" y1="329.83" x2="471.50" y2="329.83" stroke="#262626" stroke-width="0.95"/>
<line x1="465.50" y1="304.00" x2="471.50" y2="304.00" stroke="#262626" stroke-width="0.95"/>
<line x1="465.50" y1="278.17" x2="471.50" y2="278.17" stroke="#262626" stroke-width="0.95"/>
<line x1="465.50" y1="252.33" x2="471.50" y2="252.33" stroke="#262626" stroke-width="0.95"/>
<line x1="465.50" y1="226.50" x2="471.50" y2="226.50" stroke="#262626" stroke-width="0.95"/>
<line x1="468.50" y1="375.04" x2="471.50" y2="375.04" stroke="#262626" stroke-width="0.95"/>
<line x1="468.50" y1="368.58" x2="471.50" y2="368.58" stroke="#262626" stroke-width="0.95"/>
<line x1="468.50" y1="362.12" x2="471.50" y2="362.12" stroke="#262626" stroke-width="0.95"/>
<line x1="468.50" y1="349.21" x2="471.50" y2="349.21" stroke="#262626" stroke-width="0.95"/>
<line x1="468.50" y1="342.75" x2="471.50" y2="342.75" stroke="#262626" stroke-width="0.95"/>
<line x1="468.50" y1="336.29" x2="471.50" y2="336.29" stroke="#262626" stroke-width="0.95"/>
<line x1="468.50" y1="323.38" x2="471.50" y2="323.38" stroke="#262626" stroke-width="0.95"/>
<line x1="468.50" y1="316.92" x2="471.50" y2="316.92" stroke="#262626" stroke-width="0.95"/>
<line x1="468.50" y1="310.46" x2="471.50" y2="310.46" stroke="#262626" stroke-width="0.95"/>
<line x1="468.50" y1="297.54" x2="471.50" y2="297.54" stroke="#262626" stroke-width="0.95"/>
<line x1="468.50" y1="291.08" x2="471.50" y2="291.08" stroke="#262626" stroke-width="0.95"/>
<line x1="468.50" y1="284.62" x2="471.50" y2="284.62" stroke="#262626" stroke-width="0.95"/>
<line x1="468.50" y1="271.71" x2="471.50" y2="271.71" stroke="#262626" stroke-width="0.95"/>
<line x1="468.50" y1="265.25" x2="471.50" y2="265.25" stroke="#262626" stroke-width="0.95"/>
<line x1="468.50" y1="258.79" x2="471.50" y2="258.79" stroke="#262626" stroke-width="0.95"/>
<line x1="468.50" y1="245.88" x2="471.50" y2="245.88" stroke="#262626" stroke-width="0.95"/>
<line x1="468.50" y1="239.42" x2="471.50" y2="239.42" stroke="#262626" stroke-width="0.95"/>
<line x1="468.50" y1="232.96" x2="471.50" y2="232.96" stroke="#262626" stroke-width="0.95"/>
<text x="472.00" y="399.60" font-size="12.3" letter-spacing="0.45" text-anchor="middle" fill="#000" >&#8722;0.05</text>
<text x="549.75" y="399.60" font-size="12.3" letter-spacing="0.45" text-anchor="middle" fill="#000" >0</text>
<text x="627.50" y="399.60" font-size="12.3" letter-spacing="0.45" text-anchor="middle" fill="#000" >0.05</text>
<text x="463.05" y="386.40" font-size="12.3" letter-spacing="0.45" text-anchor="end" fill="#000" >0</text>
<text x="463.05" y="360.07" font-size="12.3" letter-spacing="0.45" text-anchor="end" fill="#000" >20</text>
<text x="463.05" y="334.23" font-size="12.3" letter-spacing="0.45" text-anchor="end" fill="#000" >40</text>
<text x="463.05" y="308.40" font-size="12.3" letter-spacing="0.45" text-anchor="end" fill="#000" >60</text>
<text x="463.05" y="282.57" font-size="12.3" letter-spacing="0.45" text-anchor="end" fill="#000" >80</text>
<text x="463.05" y="256.73" font-size="12.3" letter-spacing="0.45" text-anchor="end" fill="#000" >100</text>
<text x="463.05" y="230.90" font-size="12.3" letter-spacing="0.45" text-anchor="end" fill="#000" >120</text>
<text x="471.70" y="238.50" font-size="12.3" letter-spacing="0.1" text-anchor="start" fill="#000" >(f)</text>
<text x="0.00" y="0.00" font-size="12.3" letter-spacing="0.45" text-anchor="middle" fill="#000" transform="translate(9.8,305.1) rotate(-90)">PDF</text>
<text x="337.70" y="417.60" font-size="12.3" letter-spacing="0.36" text-anchor="middle" fill="#000" >relative error</text>
</svg>
</body></html>
